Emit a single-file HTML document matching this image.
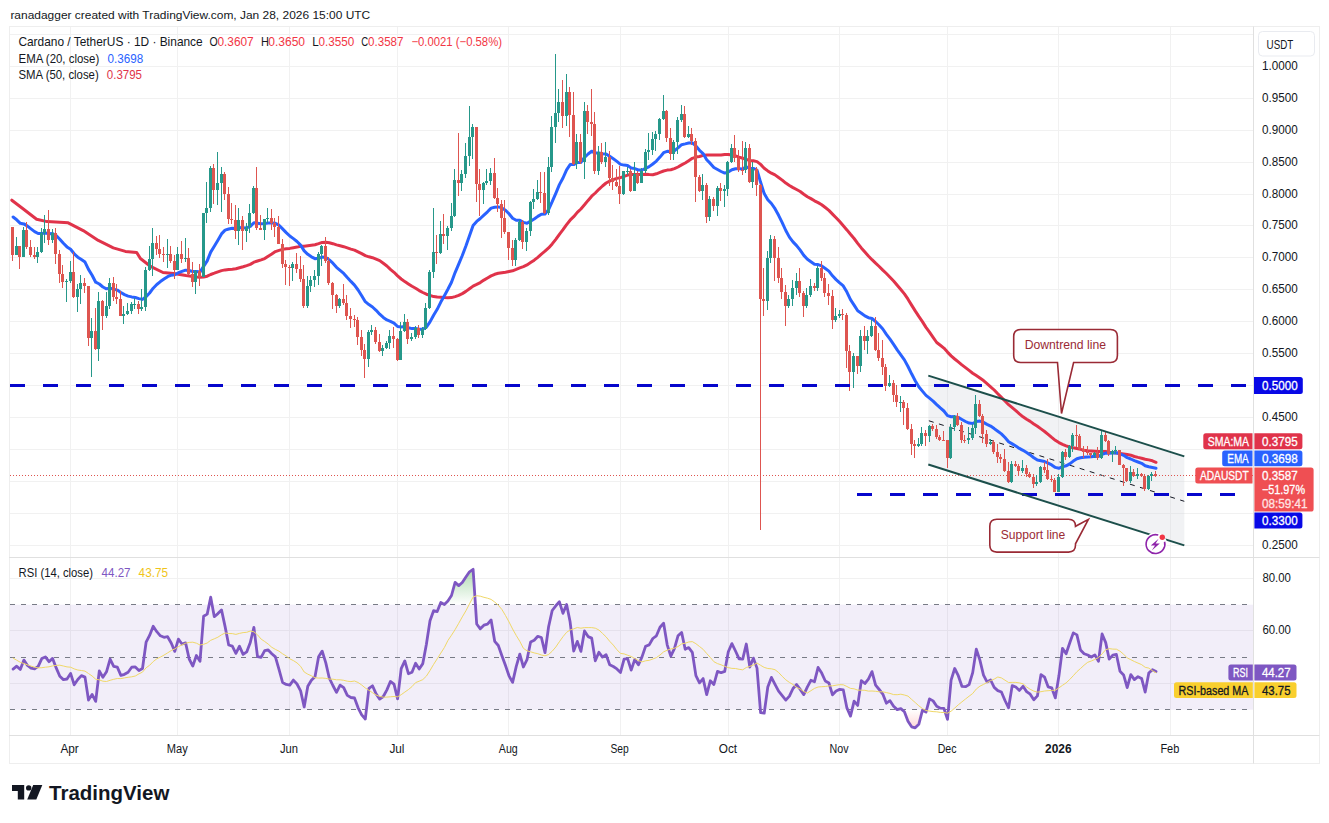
<!DOCTYPE html><html><head><meta charset="utf-8"><style>
html,body{margin:0;padding:0;background:#fff;width:1329px;height:823px;overflow:hidden}
svg{display:block}
text{font-family:'Liberation Sans',sans-serif}
</style></head><body>
<svg width="1329" height="823" viewBox="0 0 1329 823">
<rect x="0" y="0" width="1329" height="823" fill="#ffffff"/>

<text x="10.4" y="18.7" font-size="11.8" fill="#131722" textLength="359.8" lengthAdjust="spacingAndGlyphs" >ranadagger created with TradingView.com, Jan 28, 2026 15:00 UTC</text>
<line x1="10" x2="1254" y1="545.5" y2="545.5" stroke="#f1f1f1" stroke-width="1"/>
<line x1="10" x2="1254" y1="513.5" y2="513.5" stroke="#f1f1f1" stroke-width="1"/>
<line x1="10" x2="1254" y1="481.5" y2="481.5" stroke="#f1f1f1" stroke-width="1"/>
<line x1="10" x2="1254" y1="449.5" y2="449.5" stroke="#f1f1f1" stroke-width="1"/>
<line x1="10" x2="1254" y1="417.5" y2="417.5" stroke="#f1f1f1" stroke-width="1"/>
<line x1="10" x2="1254" y1="385.5" y2="385.5" stroke="#f1f1f1" stroke-width="1"/>
<line x1="10" x2="1254" y1="353.5" y2="353.5" stroke="#f1f1f1" stroke-width="1"/>
<line x1="10" x2="1254" y1="321.5" y2="321.5" stroke="#f1f1f1" stroke-width="1"/>
<line x1="10" x2="1254" y1="289.5" y2="289.5" stroke="#f1f1f1" stroke-width="1"/>
<line x1="10" x2="1254" y1="257.5" y2="257.5" stroke="#f1f1f1" stroke-width="1"/>
<line x1="10" x2="1254" y1="225.5" y2="225.5" stroke="#f1f1f1" stroke-width="1"/>
<line x1="10" x2="1254" y1="194.5" y2="194.5" stroke="#f1f1f1" stroke-width="1"/>
<line x1="10" x2="1254" y1="162.5" y2="162.5" stroke="#f1f1f1" stroke-width="1"/>
<line x1="10" x2="1254" y1="130.5" y2="130.5" stroke="#f1f1f1" stroke-width="1"/>
<line x1="10" x2="1254" y1="98.5" y2="98.5" stroke="#f1f1f1" stroke-width="1"/>
<line x1="10" x2="1254" y1="66.5" y2="66.5" stroke="#f1f1f1" stroke-width="1"/>
<line x1="10" x2="1254" y1="34.5" y2="34.5" stroke="#f1f1f1" stroke-width="1"/>
<line x1="10" x2="1254" y1="578.5" y2="578.5" stroke="#f1f1f1" stroke-width="1"/>
<line x1="10" x2="1254" y1="630.5" y2="630.5" stroke="#f1f1f1" stroke-width="1"/>
<line x1="10" x2="1254" y1="683.5" y2="683.5" stroke="#f1f1f1" stroke-width="1"/>
<line x1="70.5" x2="70.5" y1="27" y2="735" stroke="#f1f1f1" stroke-width="1"/>
<line x1="177.5" x2="177.5" y1="27" y2="735" stroke="#f1f1f1" stroke-width="1"/>
<line x1="289.5" x2="289.5" y1="27" y2="735" stroke="#f1f1f1" stroke-width="1"/>
<line x1="397.5" x2="397.5" y1="27" y2="735" stroke="#f1f1f1" stroke-width="1"/>
<line x1="508.5" x2="508.5" y1="27" y2="735" stroke="#f1f1f1" stroke-width="1"/>
<line x1="620.5" x2="620.5" y1="27" y2="735" stroke="#f1f1f1" stroke-width="1"/>
<line x1="728.5" x2="728.5" y1="27" y2="735" stroke="#f1f1f1" stroke-width="1"/>
<line x1="839.5" x2="839.5" y1="27" y2="735" stroke="#f1f1f1" stroke-width="1"/>
<line x1="947.5" x2="947.5" y1="27" y2="735" stroke="#f1f1f1" stroke-width="1"/>
<line x1="1058.5" x2="1058.5" y1="27" y2="735" stroke="#f1f1f1" stroke-width="1"/>
<line x1="1170.5" x2="1170.5" y1="27" y2="735" stroke="#f1f1f1" stroke-width="1"/>
<rect x="10" y="604.7" width="1244" height="105.0" fill="#7e57c2" fill-opacity="0.1"/>
<line x1="10" x2="1248" y1="604.5" y2="604.5" stroke="#787b86" stroke-width="1" stroke-dasharray="5 6"/>
<line x1="10" x2="1248" y1="657.5" y2="657.5" stroke="#787b86" stroke-width="1" stroke-dasharray="5 6"/>
<line x1="10" x2="1248" y1="709.5" y2="709.5" stroke="#787b86" stroke-width="1" stroke-dasharray="5 6"/>
<polygon points="928.3,375.6 1184.3,456.4 1184.3,545.4 928.3,464.5" fill="#d1d4dc" fill-opacity="0.3"/>
<line x1="928.3" y1="420.6" x2="1184.3" y2="501.3" stroke="#131722" stroke-width="1" stroke-dasharray="5 5.54" stroke-dashoffset="-0.6"/>
<line x1="10" x2="1254" y1="475.5" y2="475.5" stroke="#de5550" stroke-width="1" stroke-dasharray="1 2"/>
<polyline points="11.8,200.2 23.0,208.8 36.6,219.3 47.1,221.6 68.2,222.8 83.2,230.6 98.3,240.4 113.3,247.9 125.4,251.4 136.7,252.5 140.4,258.5 151.0,266.7 163.0,272.5 173.5,273.5 186.0,275.6 192.8,276.4 196.4,276.9 200.0,277.3 203.6,277.0 207.2,276.2 210.7,274.5 214.3,273.2 217.9,271.8 221.5,270.6 225.1,269.9 228.7,269.5 232.3,269.2 235.9,268.8 239.5,267.7 243.1,266.7 246.7,265.6 250.3,264.4 253.9,262.2 257.5,261.0 261.1,259.9 264.7,258.6 268.2,256.2 271.8,254.0 275.4,251.6 279.0,250.4 282.6,249.4 286.2,248.7 289.8,248.4 293.4,247.7 297.0,247.1 300.6,246.3 304.2,246.2 307.8,245.7 311.4,245.2 315.0,244.7 318.6,243.6 322.2,242.4 325.8,242.2 329.3,242.7 332.9,243.7 336.5,244.9 340.1,245.8 343.7,246.7 347.3,247.9 350.9,249.1 354.5,250.1 358.1,251.8 361.7,253.6 365.3,255.6 368.9,256.8 372.5,257.7 376.1,259.1 379.7,260.6 383.3,263.3 386.9,266.0 390.4,269.4 394.0,272.3 397.6,275.9 401.2,279.0 404.8,281.6 408.4,284.0 412.0,286.3 415.6,288.3 419.2,290.6 422.8,292.5 426.4,294.2 430.0,295.3 433.6,296.6 437.2,297.1 440.8,297.2 444.4,297.5 447.9,297.7 451.5,297.6 455.1,296.6 458.7,295.4 462.3,293.6 465.9,291.4 469.5,288.8 473.1,286.1 476.7,284.4 480.3,282.6 483.9,280.1 487.5,278.0 491.1,275.9 494.7,274.3 498.3,273.3 501.9,272.7 505.5,272.2 509.0,271.5 512.6,270.8 516.2,269.4 519.8,267.9 523.4,266.6 527.0,264.9 530.6,262.6 534.2,260.2 537.8,257.3 541.4,254.1 545.0,251.2 548.6,247.9 552.2,243.9 555.8,239.3 559.4,234.3 563.0,229.7 566.6,224.6 570.1,220.2 573.7,216.7 577.3,212.4 580.9,209.0 584.5,204.8 588.1,200.4 591.7,196.2 595.3,193.0 598.9,189.3 602.5,186.0 606.1,183.0 609.7,181.1 613.3,179.7 616.9,178.4 620.5,177.6 624.1,176.3 627.6,175.1 631.2,174.6 634.8,174.5 638.4,174.5 642.0,174.4 645.6,174.3 649.2,174.6 652.8,174.8 656.4,173.8 660.0,172.4 663.6,171.0 667.2,170.1 670.8,169.7 674.4,168.6 678.0,167.0 681.6,164.9 685.2,163.0 688.7,160.7 692.3,158.3 695.9,157.1 699.5,156.5 703.1,155.3 706.7,155.1 710.3,155.0 713.9,155.1 717.5,155.1 721.1,155.0 724.7,154.5 728.3,154.4 731.9,154.9 735.5,155.8 739.1,157.1 742.7,158.2 746.3,159.3 749.8,160.7 753.4,160.8 757.0,161.6 760.6,164.4 764.2,168.2 767.8,170.9 771.4,173.2 775.0,174.9 778.6,177.5 782.2,180.1 785.8,183.1 789.4,185.5 793.0,187.6 796.6,189.5 800.2,191.5 803.8,194.2 807.4,196.7 810.9,198.6 814.5,200.8 818.1,202.6 821.7,204.7 825.3,207.5 828.9,210.4 832.5,214.1 836.1,217.7 839.7,221.6 843.3,225.7 846.9,229.9 850.5,234.3 854.1,238.5 857.7,243.4 861.3,247.9 864.9,252.0 868.4,256.0 872.0,259.7 875.6,263.2 879.2,266.5 882.8,270.1 886.4,273.5 890.0,277.2 893.6,281.0 897.2,285.3 900.8,289.5 904.4,293.9 908.0,299.2 911.6,305.1 915.2,310.9 918.8,316.4 922.4,321.6 926.0,327.4 929.5,332.2 933.1,337.4 936.7,342.5 940.3,345.3 943.9,348.1 947.5,352.1 951.1,355.9 954.7,359.0 958.3,361.9 961.9,364.9 965.5,367.6 969.1,370.4 972.7,373.2 976.3,375.6 979.9,378.1 983.5,380.6 987.0,383.6 990.6,386.8 994.2,390.0 997.8,393.8 1001.4,397.4 1005.0,401.0 1008.6,404.7 1012.2,407.6 1015.8,410.6 1019.4,413.8 1023.0,416.8 1026.6,419.3 1030.2,421.4 1033.8,424.0 1037.4,426.3 1041.0,428.9 1044.6,431.5 1048.1,434.3 1051.7,437.4 1055.3,440.3 1058.9,442.6 1062.5,444.3 1066.1,445.8 1069.7,447.0 1073.3,447.8 1076.9,448.5 1080.5,449.4 1084.1,450.3 1087.7,450.8 1091.3,451.0 1094.9,451.2 1098.5,451.4 1102.1,451.5 1105.7,451.6 1109.2,452.2 1112.8,452.6 1116.4,452.9 1120.0,453.4 1123.6,453.9 1127.2,454.4 1130.8,455.2 1134.4,456.5 1138.0,457.4 1141.6,458.2 1145.2,459.2 1148.8,459.9 1152.4,460.8 1156.0,462.3" fill="none" stroke="#e0334a" stroke-width="3" stroke-linejoin="round" stroke-linecap="round" />
<polyline points="13.1,217.0 16.7,219.8 20.3,223.3 23.9,223.9 27.5,226.1 31.0,228.9 34.6,231.6 38.2,233.5 41.8,233.4 45.4,233.0 49.0,233.7 52.6,233.6 56.2,235.5 59.8,239.2 63.4,243.3 67.0,246.9 70.6,249.3 74.2,253.8 77.8,257.2 81.4,259.6 85.0,262.1 88.5,269.4 92.1,275.2 95.7,282.2 99.3,284.0 102.9,287.0 106.5,288.8 110.1,288.3 113.7,289.1 117.3,290.1 120.9,292.5 124.5,294.6 128.1,296.1 131.7,296.9 135.3,297.5 138.9,298.6 142.5,299.4 146.1,296.6 149.6,293.0 153.2,288.2 156.8,284.5 160.4,281.6 164.0,279.1 167.6,276.7 171.2,275.2 174.8,274.7 178.4,272.7 182.0,271.4 185.6,270.2 189.2,270.5 192.8,271.6 196.4,271.5 200.0,272.1 203.6,266.4 207.2,260.9 210.7,252.1 214.3,246.2 217.9,240.2 221.5,233.9 225.1,230.1 228.7,229.0 232.3,228.2 235.9,228.4 239.5,227.6 243.1,227.9 246.7,227.8 250.3,226.4 253.9,222.7 257.5,223.2 261.1,223.8 264.7,223.4 268.2,222.9 271.8,222.9 275.4,223.3 279.0,225.2 282.6,228.9 286.2,232.6 289.8,236.0 293.4,238.6 297.0,241.5 300.6,245.1 304.2,250.9 307.8,254.3 311.4,256.8 315.0,258.7 318.6,258.2 322.2,257.1 325.8,257.4 329.3,259.9 332.9,263.2 336.5,267.3 340.1,270.3 343.7,273.4 347.3,277.5 350.9,281.4 354.5,285.1 358.1,290.0 361.7,295.7 365.3,301.7 368.9,304.6 372.5,307.0 376.1,310.3 379.7,314.2 383.3,317.4 386.9,319.9 390.4,321.4 394.0,323.1 397.6,326.5 401.2,327.0 404.8,326.5 408.4,327.7 412.0,328.6 415.6,328.6 419.2,329.2 422.8,329.2 426.4,327.1 430.0,321.9 433.6,315.2 437.2,309.3 440.8,302.1 444.4,295.7 447.9,289.3 451.5,282.3 455.1,272.6 458.7,264.1 462.3,255.5 465.9,246.0 469.5,235.7 473.1,225.4 476.7,221.4 480.3,218.5 483.9,215.1 487.5,211.8 491.1,208.1 494.7,207.2 498.3,206.9 501.9,207.9 505.5,210.2 509.0,213.8 512.6,218.2 516.2,220.2 519.8,220.3 523.4,222.4 527.0,223.2 530.6,221.1 534.2,219.0 537.8,216.4 541.4,214.2 545.0,214.1 548.6,209.6 552.2,201.7 555.8,193.3 559.4,184.6 563.0,178.0 566.6,169.8 570.1,164.6 573.7,164.6 577.3,162.5 580.9,162.4 584.5,157.5 588.1,154.0 591.7,151.2 595.3,153.1 598.9,152.9 602.5,153.8 606.1,154.1 609.7,156.3 613.3,158.7 616.9,161.4 620.5,164.4 624.1,165.1 627.6,165.6 631.2,168.0 634.8,168.6 638.4,170.0 642.0,170.0 645.6,168.4 649.2,166.6 652.8,164.0 656.4,161.1 660.0,157.1 663.6,152.7 667.2,151.3 670.8,151.6 674.4,150.7 678.0,147.9 681.6,144.7 685.2,143.9 688.7,143.0 692.3,142.8 695.9,146.0 699.5,150.3 703.1,153.6 706.7,159.7 710.3,163.4 713.9,167.5 717.5,169.5 721.1,171.5 724.7,173.1 728.3,172.0 731.9,169.8 735.5,168.7 739.1,168.8 742.7,168.9 746.3,166.9 749.8,168.4 753.4,168.4 757.0,170.0 760.6,182.3 764.2,193.6 767.8,199.7 771.4,203.5 775.0,208.7 778.6,215.3 782.2,222.6 785.8,230.5 789.4,237.1 793.0,241.9 796.6,245.6 800.2,250.2 803.8,255.4 807.4,259.2 810.9,261.7 814.5,264.2 818.1,264.6 821.7,265.9 825.3,268.5 828.9,271.1 832.5,275.8 836.1,279.6 839.7,282.9 843.3,285.9 846.9,292.1 850.5,299.7 854.1,305.1 857.7,310.8 861.3,313.2 864.9,315.9 868.4,317.7 872.0,318.5 875.6,321.5 879.2,325.0 882.8,329.0 886.4,334.4 890.0,339.1 893.6,344.4 897.2,349.9 900.8,354.9 904.4,359.9 908.0,366.5 911.6,373.8 915.2,380.7 918.8,386.7 922.4,391.1 926.0,395.4 929.5,398.2 933.1,401.1 936.7,404.6 940.3,407.9 943.9,411.0 947.5,415.6 951.1,416.7 954.7,416.6 958.3,417.4 961.9,419.5 965.5,421.5 969.1,423.1 972.7,423.5 976.3,421.6 979.9,421.1 983.5,422.4 987.0,424.4 990.6,426.1 994.2,428.6 997.8,431.3 1001.4,433.9 1005.0,437.5 1008.6,441.7 1012.2,443.9 1015.8,446.0 1019.4,448.4 1023.0,450.3 1026.6,452.5 1030.2,454.9 1033.8,457.7 1037.4,460.0 1041.0,460.7 1044.6,461.5 1048.1,463.2 1051.7,464.9 1055.3,467.4 1058.9,468.3 1062.5,466.7 1066.1,465.8 1069.7,463.9 1073.3,461.1 1076.9,458.8 1080.5,457.8 1084.1,457.3 1087.7,456.9 1091.3,456.7 1094.9,456.3 1098.5,456.5 1102.1,454.4 1105.7,453.1 1109.2,453.3 1112.8,453.0 1116.4,452.8 1120.0,453.9 1123.6,455.3 1127.2,457.7 1130.8,459.0 1134.4,460.7 1138.0,462.0 1141.6,463.3 1145.2,465.8 1148.8,466.8 1152.4,467.5 1156.0,468.2" fill="none" stroke="#2962ff" stroke-width="3" stroke-linejoin="round" stroke-linecap="round" />
<rect x="12" y="227" width="1" height="34" fill="#de5550"/>
<rect x="11" y="227" width="3" height="28" fill="#de5550"/>
<rect x="16" y="237" width="1" height="18" fill="#26988a"/>
<rect x="15" y="246" width="3" height="9" fill="#26988a"/>
<rect x="19" y="246" width="1" height="23" fill="#de5550"/>
<rect x="18" y="246" width="3" height="11" fill="#de5550"/>
<rect x="23" y="227" width="1" height="30" fill="#26988a"/>
<rect x="22" y="230" width="3" height="27" fill="#26988a"/>
<rect x="26" y="222" width="1" height="27" fill="#de5550"/>
<rect x="25" y="230" width="3" height="17" fill="#de5550"/>
<rect x="30" y="240" width="1" height="17" fill="#de5550"/>
<rect x="29" y="247" width="3" height="8" fill="#de5550"/>
<rect x="34" y="247" width="1" height="12" fill="#de5550"/>
<rect x="33" y="255" width="3" height="2" fill="#de5550"/>
<rect x="37" y="247" width="1" height="16" fill="#26988a"/>
<rect x="36" y="252" width="3" height="5" fill="#26988a"/>
<rect x="41" y="228" width="1" height="25" fill="#26988a"/>
<rect x="40" y="233" width="3" height="19" fill="#26988a"/>
<rect x="44" y="215" width="1" height="28" fill="#26988a"/>
<rect x="43" y="229" width="3" height="4" fill="#26988a"/>
<rect x="48" y="210" width="1" height="35" fill="#de5550"/>
<rect x="47" y="229" width="3" height="11" fill="#de5550"/>
<rect x="52" y="229" width="1" height="14" fill="#26988a"/>
<rect x="51" y="233" width="3" height="7" fill="#26988a"/>
<rect x="55" y="228" width="1" height="36" fill="#de5550"/>
<rect x="54" y="233" width="3" height="21" fill="#de5550"/>
<rect x="59" y="250" width="1" height="33" fill="#de5550"/>
<rect x="58" y="254" width="3" height="20" fill="#de5550"/>
<rect x="62" y="265" width="1" height="23" fill="#de5550"/>
<rect x="61" y="274" width="3" height="8" fill="#de5550"/>
<rect x="66" y="279" width="1" height="23" fill="#26988a"/>
<rect x="65" y="281" width="3" height="1" fill="#26988a"/>
<rect x="70" y="261" width="1" height="22" fill="#26988a"/>
<rect x="69" y="272" width="3" height="9" fill="#26988a"/>
<rect x="73" y="252" width="1" height="46" fill="#de5550"/>
<rect x="72" y="272" width="3" height="25" fill="#de5550"/>
<rect x="77" y="284" width="1" height="28" fill="#26988a"/>
<rect x="76" y="289" width="3" height="8" fill="#26988a"/>
<rect x="80" y="275" width="1" height="29" fill="#26988a"/>
<rect x="79" y="283" width="3" height="6" fill="#26988a"/>
<rect x="84" y="278" width="1" height="15" fill="#de5550"/>
<rect x="83" y="283" width="3" height="3" fill="#de5550"/>
<rect x="88" y="286" width="1" height="60" fill="#de5550"/>
<rect x="87" y="286" width="3" height="52" fill="#de5550"/>
<rect x="91" y="318" width="1" height="59" fill="#26988a"/>
<rect x="90" y="331" width="3" height="7" fill="#26988a"/>
<rect x="95" y="308" width="1" height="42" fill="#de5550"/>
<rect x="94" y="331" width="3" height="18" fill="#de5550"/>
<rect x="98" y="292" width="1" height="69" fill="#26988a"/>
<rect x="97" y="301" width="3" height="48" fill="#26988a"/>
<rect x="102" y="300" width="1" height="30" fill="#de5550"/>
<rect x="101" y="301" width="3" height="15" fill="#de5550"/>
<rect x="106" y="292" width="1" height="26" fill="#26988a"/>
<rect x="105" y="306" width="3" height="10" fill="#26988a"/>
<rect x="109" y="278" width="1" height="31" fill="#26988a"/>
<rect x="108" y="283" width="3" height="23" fill="#26988a"/>
<rect x="113" y="277" width="1" height="24" fill="#de5550"/>
<rect x="112" y="283" width="3" height="14" fill="#de5550"/>
<rect x="116" y="284" width="1" height="20" fill="#de5550"/>
<rect x="115" y="297" width="3" height="2" fill="#de5550"/>
<rect x="120" y="291" width="1" height="25" fill="#de5550"/>
<rect x="119" y="299" width="3" height="17" fill="#de5550"/>
<rect x="123" y="306" width="1" height="18" fill="#26988a"/>
<rect x="122" y="314" width="3" height="2" fill="#26988a"/>
<rect x="127" y="303" width="1" height="12" fill="#26988a"/>
<rect x="126" y="311" width="3" height="3" fill="#26988a"/>
<rect x="131" y="302" width="1" height="12" fill="#26988a"/>
<rect x="130" y="304" width="3" height="7" fill="#26988a"/>
<rect x="134" y="298" width="1" height="11" fill="#26988a"/>
<rect x="133" y="304" width="3" height="1" fill="#26988a"/>
<rect x="138" y="301" width="1" height="13" fill="#de5550"/>
<rect x="137" y="304" width="3" height="5" fill="#de5550"/>
<rect x="141" y="289" width="1" height="22" fill="#26988a"/>
<rect x="140" y="307" width="3" height="2" fill="#26988a"/>
<rect x="145" y="267" width="1" height="44" fill="#26988a"/>
<rect x="144" y="270" width="3" height="37" fill="#26988a"/>
<rect x="149" y="246" width="1" height="25" fill="#26988a"/>
<rect x="148" y="259" width="3" height="11" fill="#26988a"/>
<rect x="152" y="228" width="1" height="48" fill="#26988a"/>
<rect x="151" y="243" width="3" height="16" fill="#26988a"/>
<rect x="156" y="236" width="1" height="19" fill="#de5550"/>
<rect x="155" y="243" width="3" height="6" fill="#de5550"/>
<rect x="159" y="235" width="1" height="23" fill="#de5550"/>
<rect x="158" y="249" width="3" height="5" fill="#de5550"/>
<rect x="163" y="247" width="1" height="15" fill="#de5550"/>
<rect x="162" y="254" width="3" height="1" fill="#de5550"/>
<rect x="167" y="239" width="1" height="29" fill="#26988a"/>
<rect x="166" y="254" width="3" height="1" fill="#26988a"/>
<rect x="170" y="246" width="1" height="17" fill="#de5550"/>
<rect x="169" y="254" width="3" height="7" fill="#de5550"/>
<rect x="174" y="255" width="1" height="24" fill="#de5550"/>
<rect x="173" y="261" width="3" height="9" fill="#de5550"/>
<rect x="177" y="247" width="1" height="23" fill="#26988a"/>
<rect x="176" y="254" width="3" height="16" fill="#26988a"/>
<rect x="181" y="241" width="1" height="22" fill="#de5550"/>
<rect x="180" y="254" width="3" height="5" fill="#de5550"/>
<rect x="185" y="238" width="1" height="24" fill="#26988a"/>
<rect x="184" y="258" width="3" height="1" fill="#26988a"/>
<rect x="188" y="248" width="1" height="27" fill="#de5550"/>
<rect x="187" y="258" width="3" height="16" fill="#de5550"/>
<rect x="192" y="262" width="1" height="25" fill="#de5550"/>
<rect x="191" y="274" width="3" height="8" fill="#de5550"/>
<rect x="195" y="270" width="1" height="24" fill="#26988a"/>
<rect x="194" y="271" width="3" height="11" fill="#26988a"/>
<rect x="199" y="264" width="1" height="22" fill="#de5550"/>
<rect x="198" y="271" width="3" height="6" fill="#de5550"/>
<rect x="203" y="213" width="1" height="64" fill="#26988a"/>
<rect x="202" y="213" width="3" height="64" fill="#26988a"/>
<rect x="206" y="182" width="1" height="41" fill="#26988a"/>
<rect x="205" y="208" width="3" height="5" fill="#26988a"/>
<rect x="210" y="166" width="1" height="46" fill="#26988a"/>
<rect x="209" y="168" width="3" height="40" fill="#26988a"/>
<rect x="213" y="164" width="1" height="40" fill="#de5550"/>
<rect x="212" y="168" width="3" height="22" fill="#de5550"/>
<rect x="217" y="152" width="1" height="53" fill="#26988a"/>
<rect x="216" y="183" width="3" height="7" fill="#26988a"/>
<rect x="221" y="167" width="1" height="45" fill="#26988a"/>
<rect x="220" y="174" width="3" height="9" fill="#26988a"/>
<rect x="224" y="172" width="1" height="28" fill="#de5550"/>
<rect x="223" y="174" width="3" height="20" fill="#de5550"/>
<rect x="228" y="187" width="1" height="37" fill="#de5550"/>
<rect x="227" y="194" width="3" height="25" fill="#de5550"/>
<rect x="231" y="203" width="1" height="21" fill="#de5550"/>
<rect x="230" y="219" width="3" height="1" fill="#de5550"/>
<rect x="235" y="205" width="1" height="34" fill="#de5550"/>
<rect x="234" y="220" width="3" height="11" fill="#de5550"/>
<rect x="238" y="208" width="1" height="37" fill="#26988a"/>
<rect x="237" y="220" width="3" height="11" fill="#26988a"/>
<rect x="242" y="216" width="1" height="34" fill="#de5550"/>
<rect x="241" y="220" width="3" height="11" fill="#de5550"/>
<rect x="246" y="223" width="1" height="19" fill="#26988a"/>
<rect x="245" y="227" width="3" height="4" fill="#26988a"/>
<rect x="249" y="204" width="1" height="29" fill="#26988a"/>
<rect x="248" y="213" width="3" height="14" fill="#26988a"/>
<rect x="253" y="186" width="1" height="28" fill="#26988a"/>
<rect x="252" y="188" width="3" height="25" fill="#26988a"/>
<rect x="256" y="167" width="1" height="63" fill="#de5550"/>
<rect x="255" y="188" width="3" height="40" fill="#de5550"/>
<rect x="260" y="215" width="1" height="15" fill="#de5550"/>
<rect x="259" y="228" width="3" height="2" fill="#de5550"/>
<rect x="264" y="219" width="1" height="21" fill="#26988a"/>
<rect x="263" y="219" width="3" height="11" fill="#26988a"/>
<rect x="267" y="208" width="1" height="15" fill="#26988a"/>
<rect x="266" y="218" width="3" height="1" fill="#26988a"/>
<rect x="271" y="209" width="1" height="21" fill="#de5550"/>
<rect x="270" y="218" width="3" height="5" fill="#de5550"/>
<rect x="274" y="218" width="1" height="19" fill="#de5550"/>
<rect x="273" y="223" width="3" height="4" fill="#de5550"/>
<rect x="278" y="216" width="1" height="28" fill="#de5550"/>
<rect x="277" y="227" width="3" height="17" fill="#de5550"/>
<rect x="282" y="239" width="1" height="29" fill="#de5550"/>
<rect x="281" y="244" width="3" height="20" fill="#de5550"/>
<rect x="285" y="260" width="1" height="25" fill="#de5550"/>
<rect x="284" y="264" width="3" height="3" fill="#de5550"/>
<rect x="289" y="265" width="1" height="21" fill="#de5550"/>
<rect x="288" y="267" width="3" height="1" fill="#de5550"/>
<rect x="292" y="262" width="1" height="19" fill="#26988a"/>
<rect x="291" y="264" width="3" height="4" fill="#26988a"/>
<rect x="296" y="253" width="1" height="20" fill="#de5550"/>
<rect x="295" y="264" width="3" height="5" fill="#de5550"/>
<rect x="300" y="256" width="1" height="26" fill="#de5550"/>
<rect x="299" y="269" width="3" height="10" fill="#de5550"/>
<rect x="303" y="265" width="1" height="43" fill="#de5550"/>
<rect x="302" y="279" width="3" height="27" fill="#de5550"/>
<rect x="307" y="276" width="1" height="32" fill="#26988a"/>
<rect x="306" y="286" width="3" height="20" fill="#26988a"/>
<rect x="310" y="276" width="1" height="16" fill="#26988a"/>
<rect x="309" y="280" width="3" height="6" fill="#26988a"/>
<rect x="314" y="270" width="1" height="17" fill="#26988a"/>
<rect x="313" y="276" width="3" height="4" fill="#26988a"/>
<rect x="318" y="252" width="1" height="33" fill="#26988a"/>
<rect x="317" y="254" width="3" height="22" fill="#26988a"/>
<rect x="321" y="245" width="1" height="21" fill="#26988a"/>
<rect x="320" y="246" width="3" height="8" fill="#26988a"/>
<rect x="325" y="237" width="1" height="26" fill="#de5550"/>
<rect x="324" y="246" width="3" height="15" fill="#de5550"/>
<rect x="328" y="257" width="1" height="28" fill="#de5550"/>
<rect x="327" y="261" width="3" height="22" fill="#de5550"/>
<rect x="332" y="282" width="1" height="27" fill="#de5550"/>
<rect x="331" y="283" width="3" height="12" fill="#de5550"/>
<rect x="336" y="294" width="1" height="19" fill="#de5550"/>
<rect x="335" y="295" width="3" height="11" fill="#de5550"/>
<rect x="339" y="298" width="1" height="10" fill="#26988a"/>
<rect x="338" y="299" width="3" height="7" fill="#26988a"/>
<rect x="343" y="284" width="1" height="21" fill="#de5550"/>
<rect x="342" y="299" width="3" height="4" fill="#de5550"/>
<rect x="346" y="295" width="1" height="25" fill="#de5550"/>
<rect x="345" y="303" width="3" height="13" fill="#de5550"/>
<rect x="350" y="308" width="1" height="20" fill="#de5550"/>
<rect x="349" y="316" width="3" height="3" fill="#de5550"/>
<rect x="354" y="315" width="1" height="12" fill="#de5550"/>
<rect x="353" y="319" width="3" height="1" fill="#de5550"/>
<rect x="357" y="317" width="1" height="28" fill="#de5550"/>
<rect x="356" y="320" width="3" height="17" fill="#de5550"/>
<rect x="361" y="330" width="1" height="26" fill="#de5550"/>
<rect x="360" y="337" width="3" height="13" fill="#de5550"/>
<rect x="364" y="344" width="1" height="34" fill="#de5550"/>
<rect x="363" y="350" width="3" height="9" fill="#de5550"/>
<rect x="368" y="330" width="1" height="37" fill="#26988a"/>
<rect x="367" y="332" width="3" height="27" fill="#26988a"/>
<rect x="371" y="325" width="1" height="10" fill="#26988a"/>
<rect x="370" y="330" width="3" height="2" fill="#26988a"/>
<rect x="375" y="327" width="1" height="17" fill="#de5550"/>
<rect x="374" y="330" width="3" height="12" fill="#de5550"/>
<rect x="379" y="334" width="1" height="18" fill="#de5550"/>
<rect x="378" y="342" width="3" height="9" fill="#de5550"/>
<rect x="382" y="345" width="1" height="11" fill="#26988a"/>
<rect x="381" y="348" width="3" height="3" fill="#26988a"/>
<rect x="386" y="341" width="1" height="8" fill="#26988a"/>
<rect x="385" y="343" width="3" height="5" fill="#26988a"/>
<rect x="389" y="330" width="1" height="19" fill="#26988a"/>
<rect x="388" y="336" width="3" height="7" fill="#26988a"/>
<rect x="393" y="327" width="1" height="21" fill="#de5550"/>
<rect x="392" y="336" width="3" height="3" fill="#de5550"/>
<rect x="397" y="338" width="1" height="23" fill="#de5550"/>
<rect x="396" y="339" width="3" height="21" fill="#de5550"/>
<rect x="400" y="322" width="1" height="38" fill="#26988a"/>
<rect x="399" y="331" width="3" height="29" fill="#26988a"/>
<rect x="404" y="314" width="1" height="18" fill="#26988a"/>
<rect x="403" y="322" width="3" height="9" fill="#26988a"/>
<rect x="407" y="319" width="1" height="25" fill="#de5550"/>
<rect x="406" y="322" width="3" height="17" fill="#de5550"/>
<rect x="411" y="333" width="1" height="8" fill="#26988a"/>
<rect x="410" y="337" width="3" height="2" fill="#26988a"/>
<rect x="415" y="326" width="1" height="13" fill="#26988a"/>
<rect x="414" y="328" width="3" height="9" fill="#26988a"/>
<rect x="418" y="325" width="1" height="13" fill="#de5550"/>
<rect x="417" y="328" width="3" height="7" fill="#de5550"/>
<rect x="422" y="327" width="1" height="11" fill="#26988a"/>
<rect x="421" y="329" width="3" height="6" fill="#26988a"/>
<rect x="425" y="303" width="1" height="27" fill="#26988a"/>
<rect x="424" y="308" width="3" height="21" fill="#26988a"/>
<rect x="429" y="270" width="1" height="39" fill="#26988a"/>
<rect x="428" y="272" width="3" height="36" fill="#26988a"/>
<rect x="433" y="208" width="1" height="70" fill="#26988a"/>
<rect x="432" y="252" width="3" height="20" fill="#26988a"/>
<rect x="436" y="235" width="1" height="29" fill="#de5550"/>
<rect x="435" y="252" width="3" height="1" fill="#de5550"/>
<rect x="440" y="221" width="1" height="33" fill="#26988a"/>
<rect x="439" y="234" width="3" height="19" fill="#26988a"/>
<rect x="443" y="214" width="1" height="30" fill="#de5550"/>
<rect x="442" y="234" width="3" height="2" fill="#de5550"/>
<rect x="447" y="226" width="1" height="24" fill="#26988a"/>
<rect x="446" y="228" width="3" height="8" fill="#26988a"/>
<rect x="451" y="203" width="1" height="28" fill="#26988a"/>
<rect x="450" y="216" width="3" height="12" fill="#26988a"/>
<rect x="454" y="169" width="1" height="48" fill="#26988a"/>
<rect x="453" y="180" width="3" height="36" fill="#26988a"/>
<rect x="458" y="133" width="1" height="63" fill="#de5550"/>
<rect x="457" y="180" width="3" height="3" fill="#de5550"/>
<rect x="461" y="170" width="1" height="21" fill="#26988a"/>
<rect x="460" y="174" width="3" height="9" fill="#26988a"/>
<rect x="465" y="143" width="1" height="35" fill="#26988a"/>
<rect x="464" y="156" width="3" height="18" fill="#26988a"/>
<rect x="469" y="106" width="1" height="60" fill="#26988a"/>
<rect x="468" y="137" width="3" height="19" fill="#26988a"/>
<rect x="472" y="124" width="1" height="35" fill="#26988a"/>
<rect x="471" y="127" width="3" height="10" fill="#26988a"/>
<rect x="476" y="127" width="1" height="75" fill="#de5550"/>
<rect x="475" y="127" width="3" height="57" fill="#de5550"/>
<rect x="479" y="169" width="1" height="47" fill="#de5550"/>
<rect x="478" y="184" width="3" height="6" fill="#de5550"/>
<rect x="483" y="182" width="1" height="22" fill="#26988a"/>
<rect x="482" y="183" width="3" height="7" fill="#26988a"/>
<rect x="486" y="169" width="1" height="16" fill="#26988a"/>
<rect x="485" y="181" width="3" height="2" fill="#26988a"/>
<rect x="490" y="168" width="1" height="17" fill="#26988a"/>
<rect x="489" y="173" width="3" height="8" fill="#26988a"/>
<rect x="494" y="158" width="1" height="41" fill="#de5550"/>
<rect x="493" y="173" width="3" height="25" fill="#de5550"/>
<rect x="497" y="188" width="1" height="24" fill="#de5550"/>
<rect x="496" y="198" width="3" height="6" fill="#de5550"/>
<rect x="501" y="200" width="1" height="38" fill="#de5550"/>
<rect x="500" y="204" width="3" height="14" fill="#de5550"/>
<rect x="504" y="200" width="1" height="34" fill="#de5550"/>
<rect x="503" y="218" width="3" height="14" fill="#de5550"/>
<rect x="508" y="232" width="1" height="28" fill="#de5550"/>
<rect x="507" y="232" width="3" height="16" fill="#de5550"/>
<rect x="512" y="240" width="1" height="26" fill="#de5550"/>
<rect x="511" y="248" width="3" height="12" fill="#de5550"/>
<rect x="515" y="238" width="1" height="28" fill="#26988a"/>
<rect x="514" y="240" width="3" height="20" fill="#26988a"/>
<rect x="519" y="220" width="1" height="21" fill="#26988a"/>
<rect x="518" y="222" width="3" height="18" fill="#26988a"/>
<rect x="522" y="220" width="1" height="29" fill="#de5550"/>
<rect x="521" y="222" width="3" height="20" fill="#de5550"/>
<rect x="526" y="228" width="1" height="23" fill="#26988a"/>
<rect x="525" y="231" width="3" height="11" fill="#26988a"/>
<rect x="530" y="201" width="1" height="35" fill="#26988a"/>
<rect x="529" y="202" width="3" height="29" fill="#26988a"/>
<rect x="533" y="189" width="1" height="20" fill="#26988a"/>
<rect x="532" y="199" width="3" height="3" fill="#26988a"/>
<rect x="537" y="180" width="1" height="20" fill="#26988a"/>
<rect x="536" y="192" width="3" height="7" fill="#26988a"/>
<rect x="540" y="172" width="1" height="31" fill="#de5550"/>
<rect x="539" y="192" width="3" height="1" fill="#de5550"/>
<rect x="544" y="172" width="1" height="42" fill="#de5550"/>
<rect x="543" y="193" width="3" height="20" fill="#de5550"/>
<rect x="548" y="157" width="1" height="58" fill="#26988a"/>
<rect x="547" y="167" width="3" height="46" fill="#26988a"/>
<rect x="551" y="116" width="1" height="56" fill="#26988a"/>
<rect x="550" y="127" width="3" height="40" fill="#26988a"/>
<rect x="555" y="54" width="1" height="89" fill="#26988a"/>
<rect x="554" y="113" width="3" height="14" fill="#26988a"/>
<rect x="558" y="89" width="1" height="33" fill="#26988a"/>
<rect x="557" y="102" width="3" height="11" fill="#26988a"/>
<rect x="562" y="80" width="1" height="48" fill="#de5550"/>
<rect x="561" y="102" width="3" height="14" fill="#de5550"/>
<rect x="566" y="74" width="1" height="52" fill="#26988a"/>
<rect x="565" y="92" width="3" height="24" fill="#26988a"/>
<rect x="569" y="87" width="1" height="50" fill="#de5550"/>
<rect x="568" y="92" width="3" height="23" fill="#de5550"/>
<rect x="573" y="92" width="1" height="73" fill="#de5550"/>
<rect x="572" y="115" width="3" height="49" fill="#de5550"/>
<rect x="576" y="134" width="1" height="35" fill="#26988a"/>
<rect x="575" y="142" width="3" height="22" fill="#26988a"/>
<rect x="580" y="134" width="1" height="30" fill="#de5550"/>
<rect x="579" y="142" width="3" height="20" fill="#de5550"/>
<rect x="584" y="102" width="1" height="77" fill="#26988a"/>
<rect x="583" y="111" width="3" height="51" fill="#26988a"/>
<rect x="587" y="105" width="1" height="29" fill="#de5550"/>
<rect x="586" y="111" width="3" height="11" fill="#de5550"/>
<rect x="591" y="89" width="1" height="47" fill="#de5550"/>
<rect x="590" y="122" width="3" height="2" fill="#de5550"/>
<rect x="594" y="112" width="1" height="62" fill="#de5550"/>
<rect x="593" y="124" width="3" height="47" fill="#de5550"/>
<rect x="598" y="146" width="1" height="29" fill="#26988a"/>
<rect x="597" y="152" width="3" height="19" fill="#26988a"/>
<rect x="601" y="143" width="1" height="21" fill="#de5550"/>
<rect x="600" y="152" width="3" height="10" fill="#de5550"/>
<rect x="605" y="142" width="1" height="25" fill="#26988a"/>
<rect x="604" y="157" width="3" height="5" fill="#26988a"/>
<rect x="609" y="151" width="1" height="35" fill="#de5550"/>
<rect x="608" y="157" width="3" height="21" fill="#de5550"/>
<rect x="612" y="165" width="1" height="25" fill="#de5550"/>
<rect x="611" y="178" width="3" height="4" fill="#de5550"/>
<rect x="616" y="169" width="1" height="18" fill="#de5550"/>
<rect x="615" y="182" width="3" height="4" fill="#de5550"/>
<rect x="619" y="166" width="1" height="38" fill="#de5550"/>
<rect x="618" y="186" width="3" height="8" fill="#de5550"/>
<rect x="623" y="171" width="1" height="24" fill="#26988a"/>
<rect x="622" y="171" width="3" height="23" fill="#26988a"/>
<rect x="627" y="167" width="1" height="8" fill="#26988a"/>
<rect x="626" y="171" width="3" height="1" fill="#26988a"/>
<rect x="630" y="169" width="1" height="23" fill="#de5550"/>
<rect x="629" y="171" width="3" height="20" fill="#de5550"/>
<rect x="634" y="162" width="1" height="29" fill="#26988a"/>
<rect x="633" y="174" width="3" height="17" fill="#26988a"/>
<rect x="637" y="171" width="1" height="13" fill="#de5550"/>
<rect x="636" y="174" width="3" height="9" fill="#de5550"/>
<rect x="641" y="168" width="1" height="15" fill="#26988a"/>
<rect x="640" y="171" width="3" height="12" fill="#26988a"/>
<rect x="645" y="149" width="1" height="24" fill="#26988a"/>
<rect x="644" y="152" width="3" height="19" fill="#26988a"/>
<rect x="648" y="133" width="1" height="27" fill="#26988a"/>
<rect x="647" y="150" width="3" height="2" fill="#26988a"/>
<rect x="652" y="132" width="1" height="23" fill="#26988a"/>
<rect x="651" y="139" width="3" height="11" fill="#26988a"/>
<rect x="655" y="131" width="1" height="20" fill="#26988a"/>
<rect x="654" y="134" width="3" height="5" fill="#26988a"/>
<rect x="659" y="118" width="1" height="22" fill="#26988a"/>
<rect x="658" y="119" width="3" height="15" fill="#26988a"/>
<rect x="663" y="95" width="1" height="25" fill="#26988a"/>
<rect x="662" y="111" width="3" height="8" fill="#26988a"/>
<rect x="666" y="110" width="1" height="32" fill="#de5550"/>
<rect x="665" y="111" width="3" height="27" fill="#de5550"/>
<rect x="670" y="128" width="1" height="32" fill="#de5550"/>
<rect x="669" y="138" width="3" height="16" fill="#de5550"/>
<rect x="673" y="140" width="1" height="20" fill="#26988a"/>
<rect x="672" y="142" width="3" height="12" fill="#26988a"/>
<rect x="677" y="117" width="1" height="37" fill="#26988a"/>
<rect x="676" y="120" width="3" height="22" fill="#26988a"/>
<rect x="681" y="105" width="1" height="17" fill="#26988a"/>
<rect x="680" y="114" width="3" height="6" fill="#26988a"/>
<rect x="684" y="106" width="1" height="32" fill="#de5550"/>
<rect x="683" y="114" width="3" height="23" fill="#de5550"/>
<rect x="688" y="126" width="1" height="12" fill="#26988a"/>
<rect x="687" y="134" width="3" height="3" fill="#26988a"/>
<rect x="691" y="128" width="1" height="17" fill="#de5550"/>
<rect x="690" y="134" width="3" height="7" fill="#de5550"/>
<rect x="695" y="138" width="1" height="64" fill="#de5550"/>
<rect x="694" y="141" width="3" height="36" fill="#de5550"/>
<rect x="699" y="175" width="1" height="17" fill="#de5550"/>
<rect x="698" y="177" width="3" height="14" fill="#de5550"/>
<rect x="702" y="174" width="1" height="26" fill="#26988a"/>
<rect x="701" y="185" width="3" height="6" fill="#26988a"/>
<rect x="706" y="183" width="1" height="40" fill="#de5550"/>
<rect x="705" y="185" width="3" height="32" fill="#de5550"/>
<rect x="709" y="196" width="1" height="25" fill="#26988a"/>
<rect x="708" y="199" width="3" height="18" fill="#26988a"/>
<rect x="713" y="197" width="1" height="14" fill="#de5550"/>
<rect x="712" y="199" width="3" height="7" fill="#de5550"/>
<rect x="717" y="186" width="1" height="30" fill="#26988a"/>
<rect x="716" y="188" width="3" height="18" fill="#26988a"/>
<rect x="720" y="183" width="1" height="18" fill="#de5550"/>
<rect x="719" y="188" width="3" height="3" fill="#de5550"/>
<rect x="724" y="185" width="1" height="22" fill="#26988a"/>
<rect x="723" y="189" width="3" height="2" fill="#26988a"/>
<rect x="727" y="161" width="1" height="35" fill="#26988a"/>
<rect x="726" y="162" width="3" height="27" fill="#26988a"/>
<rect x="731" y="144" width="1" height="19" fill="#26988a"/>
<rect x="730" y="148" width="3" height="14" fill="#26988a"/>
<rect x="734" y="135" width="1" height="27" fill="#de5550"/>
<rect x="733" y="148" width="3" height="10" fill="#de5550"/>
<rect x="738" y="150" width="1" height="22" fill="#de5550"/>
<rect x="737" y="158" width="3" height="12" fill="#de5550"/>
<rect x="742" y="141" width="1" height="34" fill="#de5550"/>
<rect x="741" y="170" width="3" height="1" fill="#de5550"/>
<rect x="745" y="142" width="1" height="31" fill="#26988a"/>
<rect x="744" y="148" width="3" height="22" fill="#26988a"/>
<rect x="749" y="144" width="1" height="39" fill="#de5550"/>
<rect x="748" y="148" width="3" height="34" fill="#de5550"/>
<rect x="752" y="162" width="1" height="26" fill="#26988a"/>
<rect x="751" y="169" width="3" height="13" fill="#26988a"/>
<rect x="756" y="167" width="1" height="29" fill="#de5550"/>
<rect x="755" y="169" width="3" height="16" fill="#de5550"/>
<rect x="760" y="184" width="1" height="346" fill="#de5550"/>
<rect x="759" y="185" width="3" height="114" fill="#de5550"/>
<rect x="763" y="268" width="1" height="48" fill="#de5550"/>
<rect x="762" y="299" width="3" height="2" fill="#de5550"/>
<rect x="767" y="251" width="1" height="59" fill="#26988a"/>
<rect x="766" y="258" width="3" height="43" fill="#26988a"/>
<rect x="770" y="235" width="1" height="28" fill="#26988a"/>
<rect x="769" y="239" width="3" height="19" fill="#26988a"/>
<rect x="774" y="236" width="1" height="45" fill="#de5550"/>
<rect x="773" y="239" width="3" height="19" fill="#de5550"/>
<rect x="778" y="247" width="1" height="36" fill="#de5550"/>
<rect x="777" y="258" width="3" height="20" fill="#de5550"/>
<rect x="781" y="268" width="1" height="31" fill="#de5550"/>
<rect x="780" y="278" width="3" height="14" fill="#de5550"/>
<rect x="785" y="285" width="1" height="41" fill="#de5550"/>
<rect x="784" y="292" width="3" height="14" fill="#de5550"/>
<rect x="788" y="295" width="1" height="13" fill="#26988a"/>
<rect x="787" y="299" width="3" height="7" fill="#26988a"/>
<rect x="792" y="280" width="1" height="26" fill="#26988a"/>
<rect x="791" y="288" width="3" height="11" fill="#26988a"/>
<rect x="796" y="273" width="1" height="22" fill="#26988a"/>
<rect x="795" y="281" width="3" height="7" fill="#26988a"/>
<rect x="799" y="268" width="1" height="29" fill="#de5550"/>
<rect x="798" y="281" width="3" height="12" fill="#de5550"/>
<rect x="803" y="291" width="1" height="26" fill="#de5550"/>
<rect x="802" y="293" width="3" height="13" fill="#de5550"/>
<rect x="806" y="288" width="1" height="20" fill="#26988a"/>
<rect x="805" y="295" width="3" height="11" fill="#26988a"/>
<rect x="810" y="279" width="1" height="18" fill="#26988a"/>
<rect x="809" y="286" width="3" height="9" fill="#26988a"/>
<rect x="814" y="283" width="1" height="8" fill="#de5550"/>
<rect x="813" y="286" width="3" height="2" fill="#de5550"/>
<rect x="817" y="266" width="1" height="25" fill="#26988a"/>
<rect x="816" y="268" width="3" height="20" fill="#26988a"/>
<rect x="821" y="261" width="1" height="20" fill="#de5550"/>
<rect x="820" y="268" width="3" height="10" fill="#de5550"/>
<rect x="824" y="273" width="1" height="24" fill="#de5550"/>
<rect x="823" y="278" width="3" height="15" fill="#de5550"/>
<rect x="828" y="284" width="1" height="21" fill="#de5550"/>
<rect x="827" y="293" width="3" height="3" fill="#de5550"/>
<rect x="832" y="290" width="1" height="39" fill="#de5550"/>
<rect x="831" y="296" width="3" height="24" fill="#de5550"/>
<rect x="835" y="308" width="1" height="14" fill="#26988a"/>
<rect x="834" y="316" width="3" height="4" fill="#26988a"/>
<rect x="839" y="310" width="1" height="8" fill="#26988a"/>
<rect x="838" y="314" width="3" height="2" fill="#26988a"/>
<rect x="842" y="309" width="1" height="11" fill="#de5550"/>
<rect x="841" y="314" width="3" height="1" fill="#de5550"/>
<rect x="846" y="313" width="1" height="55" fill="#de5550"/>
<rect x="845" y="315" width="3" height="36" fill="#de5550"/>
<rect x="849" y="345" width="1" height="46" fill="#de5550"/>
<rect x="848" y="351" width="3" height="21" fill="#de5550"/>
<rect x="853" y="353" width="1" height="35" fill="#26988a"/>
<rect x="852" y="356" width="3" height="16" fill="#26988a"/>
<rect x="857" y="356" width="1" height="18" fill="#de5550"/>
<rect x="856" y="356" width="3" height="10" fill="#de5550"/>
<rect x="860" y="330" width="1" height="42" fill="#26988a"/>
<rect x="859" y="336" width="3" height="30" fill="#26988a"/>
<rect x="864" y="326" width="1" height="24" fill="#de5550"/>
<rect x="863" y="336" width="3" height="5" fill="#de5550"/>
<rect x="867" y="330" width="1" height="24" fill="#26988a"/>
<rect x="866" y="336" width="3" height="5" fill="#26988a"/>
<rect x="871" y="320" width="1" height="17" fill="#26988a"/>
<rect x="870" y="326" width="3" height="10" fill="#26988a"/>
<rect x="875" y="317" width="1" height="34" fill="#de5550"/>
<rect x="874" y="326" width="3" height="24" fill="#de5550"/>
<rect x="878" y="333" width="1" height="28" fill="#de5550"/>
<rect x="877" y="350" width="3" height="8" fill="#de5550"/>
<rect x="882" y="340" width="1" height="35" fill="#de5550"/>
<rect x="881" y="358" width="3" height="9" fill="#de5550"/>
<rect x="885" y="364" width="1" height="27" fill="#de5550"/>
<rect x="884" y="367" width="3" height="19" fill="#de5550"/>
<rect x="889" y="375" width="1" height="12" fill="#26988a"/>
<rect x="888" y="383" width="3" height="3" fill="#26988a"/>
<rect x="893" y="380" width="1" height="22" fill="#de5550"/>
<rect x="892" y="383" width="3" height="12" fill="#de5550"/>
<rect x="896" y="385" width="1" height="22" fill="#de5550"/>
<rect x="895" y="395" width="3" height="7" fill="#de5550"/>
<rect x="900" y="396" width="1" height="16" fill="#26988a"/>
<rect x="899" y="402" width="3" height="1" fill="#26988a"/>
<rect x="903" y="400" width="1" height="25" fill="#de5550"/>
<rect x="902" y="402" width="3" height="6" fill="#de5550"/>
<rect x="907" y="403" width="1" height="27" fill="#de5550"/>
<rect x="906" y="408" width="3" height="21" fill="#de5550"/>
<rect x="911" y="424" width="1" height="31" fill="#de5550"/>
<rect x="910" y="429" width="3" height="15" fill="#de5550"/>
<rect x="914" y="440" width="1" height="18" fill="#de5550"/>
<rect x="913" y="444" width="3" height="2" fill="#de5550"/>
<rect x="918" y="438" width="1" height="9" fill="#26988a"/>
<rect x="917" y="444" width="3" height="2" fill="#26988a"/>
<rect x="921" y="427" width="1" height="19" fill="#26988a"/>
<rect x="920" y="433" width="3" height="11" fill="#26988a"/>
<rect x="925" y="430" width="1" height="16" fill="#de5550"/>
<rect x="924" y="433" width="3" height="3" fill="#de5550"/>
<rect x="929" y="425" width="1" height="17" fill="#26988a"/>
<rect x="928" y="426" width="3" height="10" fill="#26988a"/>
<rect x="932" y="424" width="1" height="7" fill="#de5550"/>
<rect x="931" y="426" width="3" height="3" fill="#de5550"/>
<rect x="936" y="425" width="1" height="14" fill="#de5550"/>
<rect x="935" y="429" width="3" height="8" fill="#de5550"/>
<rect x="939" y="435" width="1" height="6" fill="#de5550"/>
<rect x="938" y="437" width="3" height="3" fill="#de5550"/>
<rect x="943" y="431" width="1" height="10" fill="#de5550"/>
<rect x="942" y="440" width="3" height="1" fill="#de5550"/>
<rect x="947" y="440" width="1" height="28" fill="#de5550"/>
<rect x="946" y="440" width="3" height="18" fill="#de5550"/>
<rect x="950" y="424" width="1" height="35" fill="#26988a"/>
<rect x="949" y="427" width="3" height="31" fill="#26988a"/>
<rect x="954" y="415" width="1" height="16" fill="#26988a"/>
<rect x="953" y="416" width="3" height="11" fill="#26988a"/>
<rect x="957" y="413" width="1" height="13" fill="#de5550"/>
<rect x="956" y="416" width="3" height="9" fill="#de5550"/>
<rect x="961" y="422" width="1" height="21" fill="#de5550"/>
<rect x="960" y="425" width="3" height="15" fill="#de5550"/>
<rect x="964" y="435" width="1" height="8" fill="#de5550"/>
<rect x="963" y="440" width="3" height="1" fill="#de5550"/>
<rect x="968" y="427" width="1" height="17" fill="#26988a"/>
<rect x="967" y="438" width="3" height="2" fill="#26988a"/>
<rect x="972" y="424" width="1" height="16" fill="#26988a"/>
<rect x="971" y="428" width="3" height="10" fill="#26988a"/>
<rect x="975" y="395" width="1" height="39" fill="#26988a"/>
<rect x="974" y="404" width="3" height="24" fill="#26988a"/>
<rect x="979" y="400" width="1" height="17" fill="#de5550"/>
<rect x="978" y="404" width="3" height="12" fill="#de5550"/>
<rect x="982" y="414" width="1" height="29" fill="#de5550"/>
<rect x="981" y="416" width="3" height="18" fill="#de5550"/>
<rect x="986" y="430" width="1" height="17" fill="#de5550"/>
<rect x="985" y="434" width="3" height="10" fill="#de5550"/>
<rect x="990" y="439" width="1" height="6" fill="#26988a"/>
<rect x="989" y="442" width="3" height="2" fill="#26988a"/>
<rect x="993" y="440" width="1" height="14" fill="#de5550"/>
<rect x="992" y="442" width="3" height="10" fill="#de5550"/>
<rect x="997" y="444" width="1" height="19" fill="#de5550"/>
<rect x="996" y="452" width="3" height="5" fill="#de5550"/>
<rect x="1000" y="454" width="1" height="9" fill="#de5550"/>
<rect x="999" y="457" width="3" height="2" fill="#de5550"/>
<rect x="1004" y="449" width="1" height="23" fill="#de5550"/>
<rect x="1003" y="459" width="3" height="12" fill="#de5550"/>
<rect x="1008" y="462" width="1" height="21" fill="#de5550"/>
<rect x="1007" y="471" width="3" height="11" fill="#de5550"/>
<rect x="1011" y="461" width="1" height="22" fill="#26988a"/>
<rect x="1010" y="464" width="3" height="18" fill="#26988a"/>
<rect x="1015" y="461" width="1" height="6" fill="#de5550"/>
<rect x="1014" y="464" width="3" height="2" fill="#de5550"/>
<rect x="1018" y="464" width="1" height="11" fill="#de5550"/>
<rect x="1017" y="466" width="3" height="5" fill="#de5550"/>
<rect x="1022" y="460" width="1" height="13" fill="#26988a"/>
<rect x="1021" y="468" width="3" height="3" fill="#26988a"/>
<rect x="1026" y="465" width="1" height="12" fill="#de5550"/>
<rect x="1025" y="468" width="3" height="6" fill="#de5550"/>
<rect x="1029" y="472" width="1" height="6" fill="#de5550"/>
<rect x="1028" y="474" width="3" height="3" fill="#de5550"/>
<rect x="1033" y="474" width="1" height="14" fill="#de5550"/>
<rect x="1032" y="477" width="3" height="7" fill="#de5550"/>
<rect x="1036" y="475" width="1" height="11" fill="#26988a"/>
<rect x="1035" y="482" width="3" height="2" fill="#26988a"/>
<rect x="1040" y="466" width="1" height="17" fill="#26988a"/>
<rect x="1039" y="467" width="3" height="15" fill="#26988a"/>
<rect x="1044" y="462" width="1" height="11" fill="#de5550"/>
<rect x="1043" y="467" width="3" height="3" fill="#de5550"/>
<rect x="1047" y="459" width="1" height="21" fill="#de5550"/>
<rect x="1046" y="470" width="3" height="9" fill="#de5550"/>
<rect x="1051" y="475" width="1" height="7" fill="#de5550"/>
<rect x="1050" y="479" width="3" height="1" fill="#de5550"/>
<rect x="1054" y="478" width="1" height="14" fill="#de5550"/>
<rect x="1053" y="480" width="3" height="12" fill="#de5550"/>
<rect x="1058" y="474" width="1" height="18" fill="#26988a"/>
<rect x="1057" y="477" width="3" height="15" fill="#26988a"/>
<rect x="1062" y="451" width="1" height="27" fill="#26988a"/>
<rect x="1061" y="452" width="3" height="25" fill="#26988a"/>
<rect x="1065" y="449" width="1" height="11" fill="#de5550"/>
<rect x="1064" y="452" width="3" height="5" fill="#de5550"/>
<rect x="1069" y="445" width="1" height="13" fill="#26988a"/>
<rect x="1068" y="446" width="3" height="11" fill="#26988a"/>
<rect x="1072" y="433" width="1" height="19" fill="#26988a"/>
<rect x="1071" y="435" width="3" height="11" fill="#26988a"/>
<rect x="1076" y="425" width="1" height="22" fill="#de5550"/>
<rect x="1075" y="435" width="3" height="1" fill="#de5550"/>
<rect x="1079" y="434" width="1" height="16" fill="#de5550"/>
<rect x="1078" y="436" width="3" height="13" fill="#de5550"/>
<rect x="1083" y="446" width="1" height="12" fill="#de5550"/>
<rect x="1082" y="449" width="3" height="3" fill="#de5550"/>
<rect x="1087" y="446" width="1" height="9" fill="#de5550"/>
<rect x="1086" y="452" width="3" height="1" fill="#de5550"/>
<rect x="1090" y="453" width="1" height="5" fill="#de5550"/>
<rect x="1089" y="453" width="3" height="2" fill="#de5550"/>
<rect x="1094" y="452" width="1" height="6" fill="#26988a"/>
<rect x="1093" y="453" width="3" height="2" fill="#26988a"/>
<rect x="1097" y="447" width="1" height="13" fill="#de5550"/>
<rect x="1096" y="453" width="3" height="5" fill="#de5550"/>
<rect x="1101" y="431" width="1" height="28" fill="#26988a"/>
<rect x="1100" y="435" width="3" height="23" fill="#26988a"/>
<rect x="1105" y="432" width="1" height="10" fill="#de5550"/>
<rect x="1104" y="435" width="3" height="6" fill="#de5550"/>
<rect x="1108" y="440" width="1" height="16" fill="#de5550"/>
<rect x="1107" y="441" width="3" height="13" fill="#de5550"/>
<rect x="1112" y="450" width="1" height="12" fill="#26988a"/>
<rect x="1111" y="451" width="3" height="3" fill="#26988a"/>
<rect x="1115" y="446" width="1" height="8" fill="#26988a"/>
<rect x="1114" y="450" width="3" height="1" fill="#26988a"/>
<rect x="1119" y="450" width="1" height="15" fill="#de5550"/>
<rect x="1118" y="450" width="3" height="15" fill="#de5550"/>
<rect x="1123" y="464" width="1" height="22" fill="#de5550"/>
<rect x="1122" y="465" width="3" height="3" fill="#de5550"/>
<rect x="1126" y="468" width="1" height="14" fill="#de5550"/>
<rect x="1125" y="468" width="3" height="13" fill="#de5550"/>
<rect x="1130" y="466" width="1" height="17" fill="#26988a"/>
<rect x="1129" y="472" width="3" height="9" fill="#26988a"/>
<rect x="1133" y="469" width="1" height="8" fill="#de5550"/>
<rect x="1132" y="472" width="3" height="4" fill="#de5550"/>
<rect x="1137" y="468" width="1" height="11" fill="#26988a"/>
<rect x="1136" y="474" width="3" height="2" fill="#26988a"/>
<rect x="1141" y="473" width="1" height="4" fill="#de5550"/>
<rect x="1140" y="474" width="3" height="2" fill="#de5550"/>
<rect x="1144" y="474" width="1" height="17" fill="#de5550"/>
<rect x="1143" y="476" width="3" height="13" fill="#de5550"/>
<rect x="1148" y="475" width="1" height="15" fill="#26988a"/>
<rect x="1147" y="476" width="3" height="13" fill="#26988a"/>
<rect x="1151" y="472" width="1" height="9" fill="#26988a"/>
<rect x="1150" y="474" width="3" height="2" fill="#26988a"/>
<rect x="1155" y="471" width="1" height="6" fill="#de5550"/>
<rect x="1154" y="474" width="3" height="2" fill="#de5550"/>
<defs><linearGradient id="gob" gradientUnits="userSpaceOnUse" x1="0" y1="526.0" x2="0" y2="604.7"><stop offset="0" stop-color="#4caf50" stop-opacity="1"/><stop offset="1" stop-color="#4caf50" stop-opacity="0"/></linearGradient><linearGradient id="gos" gradientUnits="userSpaceOnUse" x1="0" y1="709.7" x2="0" y2="788.5"><stop offset="0" stop-color="#ff5252" stop-opacity="0"/><stop offset="1" stop-color="#ff5252" stop-opacity="1"/></linearGradient><clipPath id="cob"><rect x="0" y="0" width="1329" height="604.70"/></clipPath><clipPath id="cos"><rect x="0" y="709.70" width="1329" height="300"/></clipPath></defs>
<polygon points="13.1,604.7 13.1,669.1 16.7,666.2 20.3,669.4 23.9,660.1 27.5,665.5 31.0,668.1 34.6,668.8 38.2,666.4 41.8,658.6 45.4,656.9 49.0,661.7 52.6,658.4 56.2,667.9 59.8,676.3 63.4,679.6 67.0,679.0 70.6,673.4 74.2,684.8 77.8,679.5 81.4,675.6 85.0,677.1 88.5,700.0 92.1,694.4 95.7,701.4 99.3,671.0 102.9,677.3 106.5,671.8 110.1,659.1 113.7,666.3 117.3,667.1 120.9,675.4 124.5,674.3 128.1,672.2 131.7,667.2 135.3,666.9 138.9,670.5 142.5,668.5 146.1,642.2 149.6,635.4 153.2,626.3 156.8,631.7 160.4,635.8 164.0,637.3 167.6,636.7 171.2,643.0 174.8,651.4 178.4,639.2 182.0,644.0 185.6,642.9 189.2,659.0 192.8,666.1 196.4,655.5 200.0,661.3 203.6,616.3 207.2,614.1 210.7,597.2 214.3,616.7 217.9,613.6 221.5,609.9 225.1,626.6 228.7,645.0 232.3,646.1 235.9,653.4 239.5,646.2 243.1,654.4 246.7,651.9 250.3,642.5 253.9,627.3 257.5,656.6 261.1,657.4 264.7,650.6 268.2,650.0 271.8,653.8 275.4,656.9 279.0,669.3 282.6,682.5 286.2,684.4 289.8,685.1 293.4,680.1 297.0,684.0 300.6,690.9 304.2,707.0 307.8,686.3 311.4,680.2 315.0,676.8 318.6,656.8 322.2,651.1 325.8,662.9 329.3,678.2 332.9,685.5 336.5,692.4 340.1,685.1 343.7,687.6 347.3,695.4 350.9,697.5 354.5,698.0 358.1,707.8 361.7,714.8 365.3,719.0 368.9,688.3 372.5,685.8 376.1,693.9 379.7,699.1 383.3,696.5 386.9,689.9 390.4,681.5 394.0,684.1 397.6,698.9 401.2,668.6 404.8,660.9 408.4,673.7 412.0,672.2 415.6,663.2 419.2,669.0 422.8,663.6 426.4,644.2 430.0,620.8 433.6,610.7 437.2,611.6 440.8,602.5 444.4,604.5 447.9,601.0 451.5,595.5 455.1,582.4 458.7,585.6 462.3,582.5 465.9,577.0 469.5,571.8 473.1,569.3 476.7,624.0 480.3,628.8 483.9,625.2 487.5,624.2 491.1,620.0 494.7,641.3 498.3,645.5 501.9,655.7 505.5,665.6 509.0,675.8 512.6,682.4 516.2,666.6 519.8,654.2 523.4,667.0 527.0,659.7 530.6,642.0 534.2,640.2 537.8,636.3 541.4,637.5 545.0,652.7 548.6,626.8 552.2,610.5 555.8,605.8 559.4,601.8 563.0,613.3 566.6,604.5 570.1,621.8 573.7,651.1 577.3,641.4 580.9,651.4 584.5,630.9 588.1,636.6 591.7,638.1 595.3,660.8 598.9,652.3 602.5,657.1 606.1,654.8 609.7,664.7 613.3,666.5 616.9,668.9 620.5,672.4 624.1,659.1 627.6,658.7 631.2,670.1 634.8,659.4 638.4,664.8 642.0,656.9 645.6,646.3 649.2,644.9 652.8,638.5 656.4,635.8 660.0,627.2 663.6,623.3 667.2,644.8 670.8,656.2 674.4,648.6 678.0,635.8 681.6,632.4 685.2,649.3 688.7,647.6 692.3,652.3 695.9,675.6 699.5,682.9 703.1,678.6 706.7,694.6 710.3,680.8 713.9,684.5 717.5,671.4 721.1,672.7 724.7,671.4 728.3,651.8 731.9,643.6 735.5,651.0 739.1,658.8 742.7,659.1 746.3,644.0 749.8,667.0 753.4,658.1 757.0,668.1 760.6,712.7 764.2,713.2 767.8,687.0 771.4,677.4 775.0,684.4 778.6,691.2 782.2,695.7 785.8,700.1 789.4,696.1 793.0,688.5 796.6,684.5 800.2,689.4 803.8,694.6 807.4,686.8 810.9,680.3 814.5,681.7 818.1,667.4 821.7,673.1 825.3,681.0 828.9,683.0 832.5,694.8 836.1,691.0 839.7,689.4 843.3,689.9 846.9,707.9 850.5,716.1 854.1,701.1 857.7,705.4 861.3,680.7 864.9,683.5 868.4,679.2 872.0,671.6 875.6,685.1 879.2,689.5 882.8,694.1 886.4,703.2 890.0,700.7 893.6,706.3 897.2,709.6 900.8,708.6 904.4,711.8 908.0,721.2 911.6,726.8 915.2,727.8 918.8,724.3 922.4,710.3 926.0,712.1 929.5,698.9 933.1,700.9 936.7,706.3 940.3,708.2 943.9,708.4 947.5,719.3 951.1,680.1 954.7,668.5 958.3,675.7 961.9,686.3 965.5,686.7 969.1,684.6 972.7,672.6 976.3,649.1 979.9,660.1 983.5,675.1 987.0,681.9 990.6,680.0 994.2,687.4 997.8,690.6 1001.4,692.0 1005.0,700.5 1008.6,707.8 1012.2,685.6 1015.8,687.0 1019.4,690.4 1023.0,686.3 1026.6,691.6 1030.2,694.2 1033.8,699.8 1037.4,695.9 1041.0,674.6 1044.6,677.2 1048.1,686.8 1051.7,687.8 1055.3,697.9 1058.9,676.1 1062.5,648.3 1066.1,653.8 1069.7,643.0 1073.3,632.9 1076.9,634.9 1080.5,650.0 1084.1,653.7 1087.7,655.0 1091.3,657.0 1094.9,654.9 1098.5,661.4 1102.1,634.0 1105.7,642.6 1109.2,659.2 1112.8,655.1 1116.4,654.5 1120.0,671.3 1123.6,674.9 1127.2,687.6 1130.8,674.6 1134.4,679.6 1138.0,676.7 1141.6,678.4 1145.2,692.1 1148.8,673.1 1152.4,669.7 1156.0,671.6 1156.0,604.7" fill="url(#gob)" clip-path="url(#cob)"/>
<polygon points="13.1,709.7 13.1,669.1 16.7,666.2 20.3,669.4 23.9,660.1 27.5,665.5 31.0,668.1 34.6,668.8 38.2,666.4 41.8,658.6 45.4,656.9 49.0,661.7 52.6,658.4 56.2,667.9 59.8,676.3 63.4,679.6 67.0,679.0 70.6,673.4 74.2,684.8 77.8,679.5 81.4,675.6 85.0,677.1 88.5,700.0 92.1,694.4 95.7,701.4 99.3,671.0 102.9,677.3 106.5,671.8 110.1,659.1 113.7,666.3 117.3,667.1 120.9,675.4 124.5,674.3 128.1,672.2 131.7,667.2 135.3,666.9 138.9,670.5 142.5,668.5 146.1,642.2 149.6,635.4 153.2,626.3 156.8,631.7 160.4,635.8 164.0,637.3 167.6,636.7 171.2,643.0 174.8,651.4 178.4,639.2 182.0,644.0 185.6,642.9 189.2,659.0 192.8,666.1 196.4,655.5 200.0,661.3 203.6,616.3 207.2,614.1 210.7,597.2 214.3,616.7 217.9,613.6 221.5,609.9 225.1,626.6 228.7,645.0 232.3,646.1 235.9,653.4 239.5,646.2 243.1,654.4 246.7,651.9 250.3,642.5 253.9,627.3 257.5,656.6 261.1,657.4 264.7,650.6 268.2,650.0 271.8,653.8 275.4,656.9 279.0,669.3 282.6,682.5 286.2,684.4 289.8,685.1 293.4,680.1 297.0,684.0 300.6,690.9 304.2,707.0 307.8,686.3 311.4,680.2 315.0,676.8 318.6,656.8 322.2,651.1 325.8,662.9 329.3,678.2 332.9,685.5 336.5,692.4 340.1,685.1 343.7,687.6 347.3,695.4 350.9,697.5 354.5,698.0 358.1,707.8 361.7,714.8 365.3,719.0 368.9,688.3 372.5,685.8 376.1,693.9 379.7,699.1 383.3,696.5 386.9,689.9 390.4,681.5 394.0,684.1 397.6,698.9 401.2,668.6 404.8,660.9 408.4,673.7 412.0,672.2 415.6,663.2 419.2,669.0 422.8,663.6 426.4,644.2 430.0,620.8 433.6,610.7 437.2,611.6 440.8,602.5 444.4,604.5 447.9,601.0 451.5,595.5 455.1,582.4 458.7,585.6 462.3,582.5 465.9,577.0 469.5,571.8 473.1,569.3 476.7,624.0 480.3,628.8 483.9,625.2 487.5,624.2 491.1,620.0 494.7,641.3 498.3,645.5 501.9,655.7 505.5,665.6 509.0,675.8 512.6,682.4 516.2,666.6 519.8,654.2 523.4,667.0 527.0,659.7 530.6,642.0 534.2,640.2 537.8,636.3 541.4,637.5 545.0,652.7 548.6,626.8 552.2,610.5 555.8,605.8 559.4,601.8 563.0,613.3 566.6,604.5 570.1,621.8 573.7,651.1 577.3,641.4 580.9,651.4 584.5,630.9 588.1,636.6 591.7,638.1 595.3,660.8 598.9,652.3 602.5,657.1 606.1,654.8 609.7,664.7 613.3,666.5 616.9,668.9 620.5,672.4 624.1,659.1 627.6,658.7 631.2,670.1 634.8,659.4 638.4,664.8 642.0,656.9 645.6,646.3 649.2,644.9 652.8,638.5 656.4,635.8 660.0,627.2 663.6,623.3 667.2,644.8 670.8,656.2 674.4,648.6 678.0,635.8 681.6,632.4 685.2,649.3 688.7,647.6 692.3,652.3 695.9,675.6 699.5,682.9 703.1,678.6 706.7,694.6 710.3,680.8 713.9,684.5 717.5,671.4 721.1,672.7 724.7,671.4 728.3,651.8 731.9,643.6 735.5,651.0 739.1,658.8 742.7,659.1 746.3,644.0 749.8,667.0 753.4,658.1 757.0,668.1 760.6,712.7 764.2,713.2 767.8,687.0 771.4,677.4 775.0,684.4 778.6,691.2 782.2,695.7 785.8,700.1 789.4,696.1 793.0,688.5 796.6,684.5 800.2,689.4 803.8,694.6 807.4,686.8 810.9,680.3 814.5,681.7 818.1,667.4 821.7,673.1 825.3,681.0 828.9,683.0 832.5,694.8 836.1,691.0 839.7,689.4 843.3,689.9 846.9,707.9 850.5,716.1 854.1,701.1 857.7,705.4 861.3,680.7 864.9,683.5 868.4,679.2 872.0,671.6 875.6,685.1 879.2,689.5 882.8,694.1 886.4,703.2 890.0,700.7 893.6,706.3 897.2,709.6 900.8,708.6 904.4,711.8 908.0,721.2 911.6,726.8 915.2,727.8 918.8,724.3 922.4,710.3 926.0,712.1 929.5,698.9 933.1,700.9 936.7,706.3 940.3,708.2 943.9,708.4 947.5,719.3 951.1,680.1 954.7,668.5 958.3,675.7 961.9,686.3 965.5,686.7 969.1,684.6 972.7,672.6 976.3,649.1 979.9,660.1 983.5,675.1 987.0,681.9 990.6,680.0 994.2,687.4 997.8,690.6 1001.4,692.0 1005.0,700.5 1008.6,707.8 1012.2,685.6 1015.8,687.0 1019.4,690.4 1023.0,686.3 1026.6,691.6 1030.2,694.2 1033.8,699.8 1037.4,695.9 1041.0,674.6 1044.6,677.2 1048.1,686.8 1051.7,687.8 1055.3,697.9 1058.9,676.1 1062.5,648.3 1066.1,653.8 1069.7,643.0 1073.3,632.9 1076.9,634.9 1080.5,650.0 1084.1,653.7 1087.7,655.0 1091.3,657.0 1094.9,654.9 1098.5,661.4 1102.1,634.0 1105.7,642.6 1109.2,659.2 1112.8,655.1 1116.4,654.5 1120.0,671.3 1123.6,674.9 1127.2,687.6 1130.8,674.6 1134.4,679.6 1138.0,676.7 1141.6,678.4 1145.2,692.1 1148.8,673.1 1152.4,669.7 1156.0,671.6 1156.0,709.7" fill="url(#gos)" clip-path="url(#cos)"/>
<polyline points="13.1,669.1 16.7,666.2 20.3,669.4 23.9,660.1 27.5,665.5 31.0,668.1 34.6,668.8 38.2,666.4 41.8,658.6 45.4,656.9 49.0,661.7 52.6,658.4 56.2,667.9 59.8,676.3 63.4,679.6 67.0,679.0 70.6,673.4 74.2,684.8 77.8,679.5 81.4,675.6 85.0,677.1 88.5,700.0 92.1,694.4 95.7,701.4 99.3,671.0 102.9,677.3 106.5,671.8 110.1,659.1 113.7,666.3 117.3,667.1 120.9,675.4 124.5,674.3 128.1,672.2 131.7,667.2 135.3,666.9 138.9,670.5 142.5,668.5 146.1,642.2 149.6,635.4 153.2,626.3 156.8,631.7 160.4,635.8 164.0,637.3 167.6,636.7 171.2,643.0 174.8,651.4 178.4,639.2 182.0,644.0 185.6,642.9 189.2,659.0 192.8,666.1 196.4,655.5 200.0,661.3 203.6,616.3 207.2,614.1 210.7,597.2 214.3,616.7 217.9,613.6 221.5,609.9 225.1,626.6 228.7,645.0 232.3,646.1 235.9,653.4 239.5,646.2 243.1,654.4 246.7,651.9 250.3,642.5 253.9,627.3 257.5,656.6 261.1,657.4 264.7,650.6 268.2,650.0 271.8,653.8 275.4,656.9 279.0,669.3 282.6,682.5 286.2,684.4 289.8,685.1 293.4,680.1 297.0,684.0 300.6,690.9 304.2,707.0 307.8,686.3 311.4,680.2 315.0,676.8 318.6,656.8 322.2,651.1 325.8,662.9 329.3,678.2 332.9,685.5 336.5,692.4 340.1,685.1 343.7,687.6 347.3,695.4 350.9,697.5 354.5,698.0 358.1,707.8 361.7,714.8 365.3,719.0 368.9,688.3 372.5,685.8 376.1,693.9 379.7,699.1 383.3,696.5 386.9,689.9 390.4,681.5 394.0,684.1 397.6,698.9 401.2,668.6 404.8,660.9 408.4,673.7 412.0,672.2 415.6,663.2 419.2,669.0 422.8,663.6 426.4,644.2 430.0,620.8 433.6,610.7 437.2,611.6 440.8,602.5 444.4,604.5 447.9,601.0 451.5,595.5 455.1,582.4 458.7,585.6 462.3,582.5 465.9,577.0 469.5,571.8 473.1,569.3 476.7,624.0 480.3,628.8 483.9,625.2 487.5,624.2 491.1,620.0 494.7,641.3 498.3,645.5 501.9,655.7 505.5,665.6 509.0,675.8 512.6,682.4 516.2,666.6 519.8,654.2 523.4,667.0 527.0,659.7 530.6,642.0 534.2,640.2 537.8,636.3 541.4,637.5 545.0,652.7 548.6,626.8 552.2,610.5 555.8,605.8 559.4,601.8 563.0,613.3 566.6,604.5 570.1,621.8 573.7,651.1 577.3,641.4 580.9,651.4 584.5,630.9 588.1,636.6 591.7,638.1 595.3,660.8 598.9,652.3 602.5,657.1 606.1,654.8 609.7,664.7 613.3,666.5 616.9,668.9 620.5,672.4 624.1,659.1 627.6,658.7 631.2,670.1 634.8,659.4 638.4,664.8 642.0,656.9 645.6,646.3 649.2,644.9 652.8,638.5 656.4,635.8 660.0,627.2 663.6,623.3 667.2,644.8 670.8,656.2 674.4,648.6 678.0,635.8 681.6,632.4 685.2,649.3 688.7,647.6 692.3,652.3 695.9,675.6 699.5,682.9 703.1,678.6 706.7,694.6 710.3,680.8 713.9,684.5 717.5,671.4 721.1,672.7 724.7,671.4 728.3,651.8 731.9,643.6 735.5,651.0 739.1,658.8 742.7,659.1 746.3,644.0 749.8,667.0 753.4,658.1 757.0,668.1 760.6,712.7 764.2,713.2 767.8,687.0 771.4,677.4 775.0,684.4 778.6,691.2 782.2,695.7 785.8,700.1 789.4,696.1 793.0,688.5 796.6,684.5 800.2,689.4 803.8,694.6 807.4,686.8 810.9,680.3 814.5,681.7 818.1,667.4 821.7,673.1 825.3,681.0 828.9,683.0 832.5,694.8 836.1,691.0 839.7,689.4 843.3,689.9 846.9,707.9 850.5,716.1 854.1,701.1 857.7,705.4 861.3,680.7 864.9,683.5 868.4,679.2 872.0,671.6 875.6,685.1 879.2,689.5 882.8,694.1 886.4,703.2 890.0,700.7 893.6,706.3 897.2,709.6 900.8,708.6 904.4,711.8 908.0,721.2 911.6,726.8 915.2,727.8 918.8,724.3 922.4,710.3 926.0,712.1 929.5,698.9 933.1,700.9 936.7,706.3 940.3,708.2 943.9,708.4 947.5,719.3 951.1,680.1 954.7,668.5 958.3,675.7 961.9,686.3 965.5,686.7 969.1,684.6 972.7,672.6 976.3,649.1 979.9,660.1 983.5,675.1 987.0,681.9 990.6,680.0 994.2,687.4 997.8,690.6 1001.4,692.0 1005.0,700.5 1008.6,707.8 1012.2,685.6 1015.8,687.0 1019.4,690.4 1023.0,686.3 1026.6,691.6 1030.2,694.2 1033.8,699.8 1037.4,695.9 1041.0,674.6 1044.6,677.2 1048.1,686.8 1051.7,687.8 1055.3,697.9 1058.9,676.1 1062.5,648.3 1066.1,653.8 1069.7,643.0 1073.3,632.9 1076.9,634.9 1080.5,650.0 1084.1,653.7 1087.7,655.0 1091.3,657.0 1094.9,654.9 1098.5,661.4 1102.1,634.0 1105.7,642.6 1109.2,659.2 1112.8,655.1 1116.4,654.5 1120.0,671.3 1123.6,674.9 1127.2,687.6 1130.8,674.6 1134.4,679.6 1138.0,676.7 1141.6,678.4 1145.2,692.1 1148.8,673.1 1152.4,669.7 1156.0,671.6" fill="none" stroke="#7e57c2" stroke-width="2.8" stroke-linejoin="round" stroke-linecap="round" />
<polyline points="13.1,658.1 16.7,660.2 20.3,662.3 23.9,663.5 27.5,664.9 31.0,666.1 34.6,667.2 38.2,667.9 41.8,667.7 45.4,667.2 49.0,666.8 52.6,665.9 56.2,665.4 59.8,665.2 63.4,666.0 67.0,666.9 70.6,667.2 74.2,668.9 77.8,670.0 81.4,670.5 85.0,671.1 88.5,673.5 92.1,676.0 95.7,679.2 99.3,679.9 102.9,681.2 106.5,681.5 110.1,680.3 113.7,679.3 117.3,678.5 120.9,678.6 124.5,677.9 128.1,677.3 131.7,676.8 135.3,676.0 138.9,673.9 142.5,672.1 146.1,667.8 149.6,665.3 153.2,661.6 156.8,658.8 160.4,657.1 164.0,655.1 167.6,652.9 171.2,650.6 174.8,648.9 178.4,646.6 182.0,644.9 185.6,643.2 189.2,642.4 192.8,642.2 196.4,643.2 200.0,645.0 203.6,644.3 207.2,643.0 210.7,640.3 214.3,638.8 217.9,637.2 221.5,634.8 225.1,633.0 228.7,633.5 232.3,633.6 235.9,634.4 239.5,633.4 243.1,632.6 246.7,632.3 250.3,631.0 253.9,631.8 257.5,634.8 261.1,639.1 264.7,641.5 268.2,644.1 271.8,647.3 275.4,649.4 279.0,651.2 282.6,653.8 286.2,656.0 289.8,658.8 293.4,660.6 297.0,662.9 300.6,666.3 304.2,672.0 307.8,674.2 311.4,675.8 315.0,677.7 318.6,678.1 322.2,678.0 325.8,678.4 329.3,679.0 332.9,679.2 336.5,679.8 340.1,679.8 343.7,680.3 347.3,681.2 350.9,681.6 354.5,681.0 358.1,682.5 361.7,685.0 365.3,688.0 368.9,690.3 372.5,692.7 376.1,695.0 379.7,696.4 383.3,697.2 386.9,697.1 390.4,696.8 394.0,696.5 397.6,696.8 401.2,694.7 404.8,692.1 408.4,689.6 412.0,686.6 415.6,682.6 419.2,681.2 422.8,679.6 426.4,676.1 430.0,670.5 433.6,664.4 437.2,658.8 440.8,653.1 444.4,647.5 447.9,640.5 451.5,635.2 455.1,629.6 458.7,623.3 462.3,616.9 465.9,610.8 469.5,603.8 473.1,597.1 476.7,595.7 480.3,596.2 483.9,597.3 487.5,598.2 491.1,599.4 494.7,602.0 498.3,605.2 501.9,609.5 505.5,615.5 509.0,621.9 512.6,629.0 516.2,635.4 519.8,641.3 523.4,648.3 527.0,650.8 530.6,651.8 534.2,652.9 537.8,653.7 541.4,655.0 545.0,655.8 548.6,654.5 552.2,651.2 555.8,647.0 559.4,641.7 563.0,636.7 566.6,632.3 570.1,630.0 573.7,628.9 577.3,627.5 580.9,628.2 584.5,627.6 588.1,627.6 591.7,627.6 595.3,628.2 598.9,630.0 602.5,633.4 606.1,636.9 609.7,641.3 613.3,645.1 616.9,649.7 620.5,653.4 624.1,653.9 627.6,655.2 631.2,656.5 634.8,658.5 638.4,660.5 642.0,661.9 645.6,660.8 649.2,660.3 652.8,659.0 656.4,657.6 660.0,655.0 663.6,651.9 667.2,650.2 670.8,649.0 674.4,648.2 678.0,646.6 681.6,643.9 685.2,643.2 688.7,642.0 692.3,641.6 695.9,643.7 699.5,646.5 703.1,649.3 706.7,653.5 710.3,657.4 713.9,661.7 717.5,663.6 721.1,664.8 724.7,666.4 728.3,667.6 731.9,668.4 735.5,668.5 739.1,669.3 742.7,669.8 746.3,667.5 749.8,666.4 753.4,664.9 757.0,663.0 760.6,665.3 764.2,667.4 767.8,668.5 771.4,668.8 775.0,669.7 778.6,672.5 782.2,676.3 785.8,679.8 789.4,682.4 793.0,684.5 796.6,687.4 800.2,689.0 803.8,691.6 807.4,693.0 810.9,690.7 814.5,688.4 818.1,687.0 821.7,686.7 825.3,686.5 828.9,685.9 832.5,685.8 836.1,685.2 839.7,684.7 843.3,684.8 846.9,686.5 850.5,688.4 854.1,688.8 857.7,690.1 861.3,690.2 864.9,690.3 868.4,691.1 872.0,691.0 875.6,691.3 879.2,691.8 882.8,691.8 886.4,692.6 890.0,693.4 893.6,694.6 897.2,694.7 900.8,694.2 904.4,695.0 908.0,696.1 911.6,699.4 915.2,702.5 918.8,705.8 922.4,708.5 926.0,710.5 929.5,711.1 933.1,711.6 936.7,711.8 940.3,712.4 943.9,712.5 947.5,713.2 951.1,711.2 954.7,708.1 958.3,704.8 961.9,701.9 965.5,699.0 969.1,696.2 972.7,693.5 976.3,689.0 979.9,686.2 983.5,684.4 987.0,682.6 990.6,680.6 994.2,679.1 997.8,677.0 1001.4,677.9 1005.0,680.2 1008.6,682.5 1012.2,682.4 1015.8,682.4 1019.4,682.9 1023.0,683.8 1026.6,686.9 1030.2,689.3 1033.8,691.1 1037.4,692.1 1041.0,691.7 1044.6,691.0 1048.1,690.7 1051.7,690.4 1055.3,690.2 1058.9,687.9 1062.5,685.3 1066.1,682.9 1069.7,679.5 1073.3,675.7 1076.9,671.7 1080.5,668.5 1084.1,665.2 1087.7,662.3 1091.3,661.0 1094.9,659.4 1098.5,657.6 1102.1,653.8 1105.7,649.8 1109.2,648.6 1112.8,649.1 1116.4,649.2 1120.0,651.2 1123.6,654.2 1127.2,657.9 1130.8,659.7 1134.4,661.5 1138.0,663.1 1141.6,664.6 1145.2,667.3 1148.8,668.1 1152.4,670.7 1156.0,672.7" fill="none" stroke="#f0d868" stroke-width="1" stroke-linejoin="round" stroke-linecap="round" />
<line x1="10" x2="1254" y1="385.5" y2="385.5" stroke="#0606cc" stroke-width="3" stroke-dasharray="15 18"/>
<line x1="857" x2="1254" y1="494.5" y2="494.5" stroke="#0606cc" stroke-width="3" stroke-dasharray="15 18"/>
<line x1="928.3" y1="375.6" x2="1184.3" y2="456.4" stroke="#1c4f4b" stroke-width="2"/>
<line x1="928.3" y1="464.5" x2="1184.3" y2="545.4" stroke="#1c4f4b" stroke-width="2"/>
<path d="M1020.7,329.5 H1110.4 Q1117.4,329.5 1117.4,336.5 V355.5 Q1117.4,362.5 1110.4,362.5 H1073.6 L1061.5,413.5 L1057.5,362.5 H1020.7 Q1013.7,362.5 1013.7,355.5 V336.5 Q1013.7,329.5 1020.7,329.5 Z" fill="#ffffff" stroke="#9a2a35" stroke-width="1.6" stroke-linejoin="miter"/>
<text x="1024.7" y="348.9" font-size="12" fill="#9a2a35" textLength="81.3" lengthAdjust="spacingAndGlyphs" >Downtrend line</text>
<path d="M996.8,519.3 H1068.5 Q1075.5,519.3 1075.5,526.3 L1088.4,519.4 L1075.5,543.8 V545.1 Q1075.5,552.1 1068.5,552.1 H996.8 Q989.8,552.1 989.8,545.1 V526.3 Q989.8,519.3 996.8,519.3 Z" fill="#ffffff" stroke="#9a2a35" stroke-width="1.6"/>
<text x="1000.8" y="539.1" font-size="12" fill="#9a2a35" textLength="64.5" lengthAdjust="spacingAndGlyphs" >Support line</text>
<circle cx="1155.5" cy="544.1" r="11.5" fill="#ffffff"/>
<path d="M1164.58,541.67 A9.4,9.4 0 1 1 1158.25,535.11" fill="none" stroke="#8e24aa" stroke-width="1.6"/>
<polygon points="1158.6,538.8 1150.8,545.4 1155.0,545.4 1151.8,550.4 1159.8,543.6 1155.6,543.6" fill="#8e24aa"/>
<circle cx="1162.3" cy="537.3" r="2.7" fill="#f23645"/>
<rect x="9.5" y="26.5" width="1310" height="737" fill="none" stroke="#eeeeee" stroke-width="1"/>
<rect x="9" y="557" width="1310.5" height="1" fill="#e0e0e0"/>
<rect x="1253" y="26.5" width="1" height="737" fill="#e0e0e0"/>
<rect x="9" y="735" width="1310.5" height="1" fill="#e0e0e0"/>
<text x="18.4" y="45.8" font-size="12.2" fill="#131722" textLength="184.3" lengthAdjust="spacingAndGlyphs" >Cardano / TetherUS · 1D · Binance</text>
<text x="209.5" y="45.8" font-size="12.2" fill="#131722" textLength="8.2" lengthAdjust="spacingAndGlyphs" >O</text>
<text x="217.4" y="45.8" font-size="12.2" fill="#f23645" textLength="36.3" lengthAdjust="spacingAndGlyphs" >0.3607</text>
<text x="261.09999999999997" y="45.8" font-size="12.2" fill="#131722" textLength="7.9" lengthAdjust="spacingAndGlyphs" >H</text>
<text x="268.2" y="45.8" font-size="12.2" fill="#f23645" textLength="36.9" lengthAdjust="spacingAndGlyphs" >0.3650</text>
<text x="312.29999999999995" y="45.8" font-size="12.2" fill="#131722" textLength="6.5" lengthAdjust="spacingAndGlyphs" >L</text>
<text x="318.4" y="45.8" font-size="12.2" fill="#f23645" textLength="35.8" lengthAdjust="spacingAndGlyphs" >0.3550</text>
<text x="361.29999999999995" y="45.8" font-size="12.2" fill="#131722" textLength="6.9" lengthAdjust="spacingAndGlyphs" >C</text>
<text x="368.09999999999997" y="45.8" font-size="12.2" fill="#f23645" textLength="35.3" lengthAdjust="spacingAndGlyphs" >0.3587</text>
<text x="411.4" y="45.8" font-size="12.2" fill="#f23645" textLength="90.6" lengthAdjust="spacingAndGlyphs" >−0.0021 (−0.58%)</text>
<text x="18.5" y="62.8" font-size="12.2" fill="#131722" textLength="80.7" lengthAdjust="spacingAndGlyphs" >EMA (20, close)</text>
<text x="107.6" y="62.8" font-size="12.2" fill="#2962ff" textLength="35.6" lengthAdjust="spacingAndGlyphs" >0.3698</text>
<text x="18.5" y="79.1" font-size="12.2" fill="#131722" textLength="80.2" lengthAdjust="spacingAndGlyphs" >SMA (50, close)</text>
<text x="106.8" y="79.1" font-size="12.2" fill="#e0334a" textLength="35.2" lengthAdjust="spacingAndGlyphs" >0.3795</text>
<text x="18.5" y="577.3" font-size="12.2" fill="#131722" textLength="74.5" lengthAdjust="spacingAndGlyphs" >RSI (14, close)</text>
<text x="101.6" y="577.3" font-size="12.2" fill="#7e57c2" textLength="28.9" lengthAdjust="spacingAndGlyphs" >44.27</text>
<text x="138.6" y="577.3" font-size="12.2" fill="#f0c419" textLength="29.5" lengthAdjust="spacingAndGlyphs" >43.75</text>
<text x="1262" y="549.0" font-size="12.5" fill="#131722" textLength="35.7" lengthAdjust="spacingAndGlyphs" >0.2500</text>
<text x="1262" y="421.0" font-size="12.5" fill="#131722" textLength="35.7" lengthAdjust="spacingAndGlyphs" >0.4500</text>
<text x="1262" y="357.0" font-size="12.5" fill="#131722" textLength="35.7" lengthAdjust="spacingAndGlyphs" >0.5500</text>
<text x="1262" y="325.0" font-size="12.5" fill="#131722" textLength="35.7" lengthAdjust="spacingAndGlyphs" >0.6000</text>
<text x="1262" y="293.0" font-size="12.5" fill="#131722" textLength="35.7" lengthAdjust="spacingAndGlyphs" >0.6500</text>
<text x="1262" y="261.0" font-size="12.5" fill="#131722" textLength="35.7" lengthAdjust="spacingAndGlyphs" >0.7000</text>
<text x="1262" y="229.0" font-size="12.5" fill="#131722" textLength="35.7" lengthAdjust="spacingAndGlyphs" >0.7500</text>
<text x="1262" y="198.0" font-size="12.5" fill="#131722" textLength="35.7" lengthAdjust="spacingAndGlyphs" >0.8000</text>
<text x="1262" y="166.0" font-size="12.5" fill="#131722" textLength="35.7" lengthAdjust="spacingAndGlyphs" >0.8500</text>
<text x="1262" y="134.0" font-size="12.5" fill="#131722" textLength="35.7" lengthAdjust="spacingAndGlyphs" >0.9000</text>
<text x="1262" y="102.0" font-size="12.5" fill="#131722" textLength="35.7" lengthAdjust="spacingAndGlyphs" >0.9500</text>
<text x="1262" y="70.0" font-size="12.5" fill="#131722" textLength="35.7" lengthAdjust="spacingAndGlyphs" >1.0000</text>
<rect x="1258.5" y="31.5" width="56" height="24.5" rx="4" fill="#ffffff" stroke="#e9ebf0"/>
<text x="1266.6" y="48.9" font-size="12.5" fill="#131722" textLength="26.7" lengthAdjust="spacingAndGlyphs" >USDT</text>
<path d="M1254,377.1 H1300.3 Q1302.8,377.1 1302.8,379.6 V391.4 Q1302.8,393.9 1300.3,393.9 H1254 H1254 V377.1 Z" fill="#0808e6"/>
<text x="1262" y="390.0" font-size="12.5" fill="#ffffff" textLength="35.6" lengthAdjust="spacingAndGlyphs" stroke="#ffffff" stroke-width="0.3">0.5000</text>
<path d="M1205.8,433.3 H1252.5 H1252.5 V449.2 H1205.8 Q1203.3,449.2 1203.3,446.7 V435.8 Q1203.3,433.3 1205.8,433.3 Z" fill="#e0334a"/>
<text x="1207.7" y="445.8" font-size="12.5" fill="#ffffff" textLength="41.4" lengthAdjust="spacingAndGlyphs" stroke="#ffffff" stroke-width="0.3">SMA:MA</text>
<path d="M1254.4,433.3 H1299.9 Q1302.4,433.3 1302.4,435.8 V446.7 Q1302.4,449.2 1299.9,449.2 H1254.4 H1254.4 V433.3 Z" fill="#e0334a"/>
<text x="1262" y="445.8" font-size="12.5" fill="#ffffff" textLength="35.6" lengthAdjust="spacingAndGlyphs" stroke="#ffffff" stroke-width="0.3">0.3795</text>
<path d="M1224.7,450.5 H1252.5 H1252.5 V466.2 H1224.7 Q1222.2,466.2 1222.2,463.7 V453.0 Q1222.2,450.5 1224.7,450.5 Z" fill="#2962ff"/>
<text x="1227.3" y="462.9" font-size="12.5" fill="#ffffff" textLength="21.4" lengthAdjust="spacingAndGlyphs" stroke="#ffffff" stroke-width="0.3">EMA</text>
<path d="M1254.4,450.5 H1299.9 Q1302.4,450.5 1302.4,453.0 V463.7 Q1302.4,466.2 1299.9,466.2 H1254.4 H1254.4 V450.5 Z" fill="#2962ff"/>
<text x="1262" y="462.9" font-size="12.5" fill="#ffffff" textLength="35.6" lengthAdjust="spacingAndGlyphs" stroke="#ffffff" stroke-width="0.3">0.3698</text>
<path d="M1197.8,467.4 H1252.5 H1252.5 V483.6 H1197.8 Q1195.3,483.6 1195.3,481.1 V469.9 Q1195.3,467.4 1197.8,467.4 Z" fill="#ef4f53"/>
<text x="1199.9" y="480.0" font-size="12.5" fill="#ffffff" textLength="48.8" lengthAdjust="spacingAndGlyphs" stroke="#ffffff" stroke-width="0.3">ADAUSDT</text>
<path d="M1254.4,467.4 H1311 Q1313.6,467.4 1313.6,470 V509 Q1313.6,511.6 1311,511.6 H1254.4 Z" fill="#ef4f53"/>
<text x="1262" y="479.6" font-size="12.5" fill="#ffffff" textLength="35.6" lengthAdjust="spacingAndGlyphs" stroke="#ffffff" stroke-width="0.3">0.3587</text>
<text x="1262" y="494.0" font-size="12.5" fill="#ffffff" textLength="43" lengthAdjust="spacingAndGlyphs" stroke="#ffffff" stroke-width="0.3">−51.97%</text>
<text x="1262" y="508.0" font-size="12.5" fill="#ffe3e3" textLength="45.5" lengthAdjust="spacingAndGlyphs" stroke="#ffe3e3" stroke-width="0.3">08:59:41</text>
<path d="M1254.4,512.4 H1299.9 Q1302.4,512.4 1302.4,514.9 V525.9 Q1302.4,528.4 1299.9,528.4 H1254.4 H1254.4 V512.4 Z" fill="#0808e6"/>
<text x="1262" y="524.9" font-size="12.5" fill="#ffffff" textLength="35.6" lengthAdjust="spacingAndGlyphs" stroke="#ffffff" stroke-width="0.3">0.3300</text>
<text x="1262.4" y="582.0" font-size="12.5" fill="#131722" textLength="28.5" lengthAdjust="spacingAndGlyphs" >80.00</text>
<text x="1262.4" y="634.0" font-size="12.5" fill="#131722" textLength="28.5" lengthAdjust="spacingAndGlyphs" >60.00</text>
<path d="M1230.9,664.5 H1252.8 H1252.8 V680.5 H1230.9 Q1228.4,680.5 1228.4,678.0 V667.0 Q1228.4,664.5 1230.9,664.5 Z" fill="#7e57c2"/>
<text x="1233" y="677.0" font-size="12.5" fill="#ffffff" textLength="15" lengthAdjust="spacingAndGlyphs" stroke="#ffffff" stroke-width="0.3">RSI</text>
<path d="M1254.4,664.5 H1294.0 Q1296.5,664.5 1296.5,667.0 V678.0 Q1296.5,680.5 1294.0,680.5 H1254.4 H1254.4 V664.5 Z" fill="#7e57c2"/>
<text x="1262" y="677.0" font-size="12.5" fill="#ffffff" textLength="28.5" lengthAdjust="spacingAndGlyphs" stroke="#ffffff" stroke-width="0.3">44.27</text>
<path d="M1176.5,682.2 H1252.8 H1252.8 V698 H1176.5 Q1174,698 1174,695.5 V684.7 Q1174,682.2 1176.5,682.2 Z" fill="#f9cf2e"/>
<text x="1178.5" y="694.6" font-size="12.5" fill="#131722" textLength="70" lengthAdjust="spacingAndGlyphs" stroke="#131722" stroke-width="0.3">RSI-based MA</text>
<path d="M1254.4,682.2 H1294.0 Q1296.5,682.2 1296.5,684.7 V695.5 Q1296.5,698 1294.0,698 H1254.4 H1254.4 V682.2 Z" fill="#f9cf2e"/>
<text x="1262" y="694.6" font-size="12.5" fill="#131722" textLength="28.5" lengthAdjust="spacingAndGlyphs" stroke="#131722" stroke-width="0.3">43.75</text>
<text x="60.4" y="752.9" font-size="12" fill="#131722" textLength="18.4" lengthAdjust="spacingAndGlyphs" >Apr</text>
<text x="166.8" y="752.9" font-size="12" fill="#131722" textLength="20.9" lengthAdjust="spacingAndGlyphs" >May</text>
<text x="279.9" y="752.9" font-size="12" fill="#131722" textLength="18.1" lengthAdjust="spacingAndGlyphs" >Jun</text>
<text x="389.4" y="752.9" font-size="12" fill="#131722" textLength="15.1" lengthAdjust="spacingAndGlyphs" >Jul</text>
<text x="498.8" y="752.9" font-size="12" fill="#131722" textLength="18.9" lengthAdjust="spacingAndGlyphs" >Aug</text>
<text x="610.5" y="752.9" font-size="12" fill="#131722" textLength="18.3" lengthAdjust="spacingAndGlyphs" >Sep</text>
<text x="718.8" y="752.9" font-size="12" fill="#131722" textLength="18.3" lengthAdjust="spacingAndGlyphs" >Oct</text>
<text x="829.6" y="752.9" font-size="12" fill="#131722" textLength="19.0" lengthAdjust="spacingAndGlyphs" >Nov</text>
<text x="937.7" y="752.9" font-size="12" fill="#131722" textLength="18.8" lengthAdjust="spacingAndGlyphs" >Dec</text>
<text x="1045.1" y="752.9" font-size="12" fill="#131722" textLength="26.5" lengthAdjust="spacingAndGlyphs" font-weight="bold" >2026</text>
<text x="1160.4" y="752.9" font-size="12" fill="#131722" textLength="18.9" lengthAdjust="spacingAndGlyphs" >Feb</text>
<path d="M12,785 H24.2 V799.6 H17.8 V791 H12 Z" fill="#131722"/>
<circle cx="28.7" cy="787.9" r="2.7" fill="#131722"/>
<path d="M33.2,785 H42.3 L36.3,799.6 H27.2 Z" fill="#131722"/>
<text x="49.1" y="799.6" font-size="20.2" fill="#131722" textLength="120.3" lengthAdjust="spacingAndGlyphs" font-weight="bold" >TradingView</text>
</svg></body></html>
